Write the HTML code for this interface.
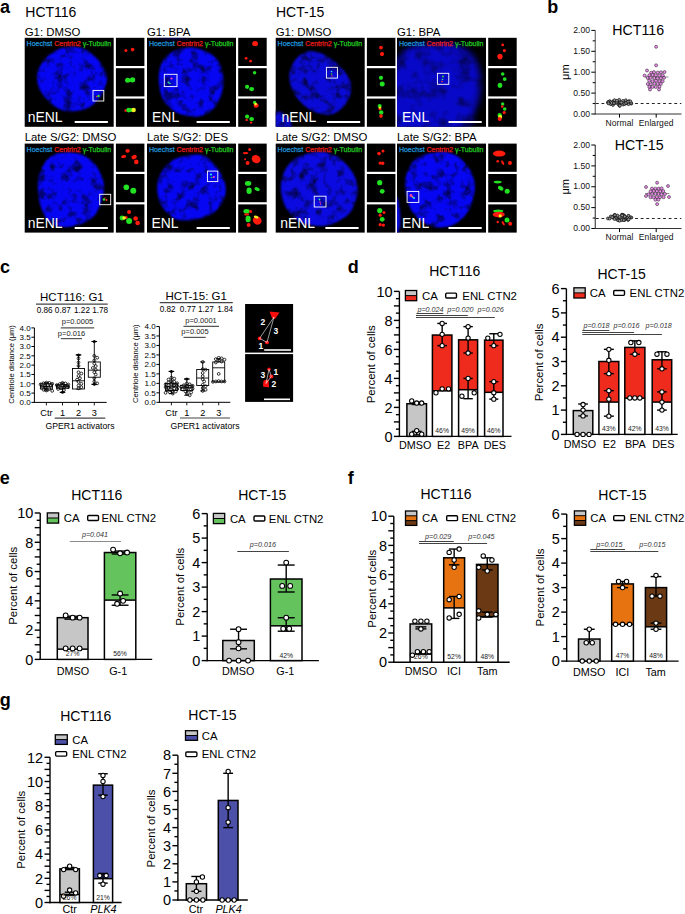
<!DOCTYPE html>
<html><head><meta charset="utf-8"><style>
html,body{margin:0;padding:0;background:#fff;}
svg{display:block;font-family:"Liberation Sans", sans-serif;}
</style></head><body>
<svg width="685" height="914" viewBox="0 0 685 914">
<defs>
<filter id="nucf0" x="-15%" y="-15%" width="130%" height="130%" color-interpolation-filters="sRGB">
<feGaussianBlur in="SourceGraphic" stdDeviation="1.3" result="b"/>
<feTurbulence type="fractalNoise" baseFrequency="0.11" numOctaves="3" seed="3" result="n"/>
<feColorMatrix in="n" type="matrix" values="1.8 0 0 0 0.04  1.8 0 0 0 0.04  1.8 0 0 0 0.04  0 0 0 0 1" result="m"/>
<feComposite in="b" in2="m" operator="arithmetic" k1="1" k2="0" k3="0" k4="0"/>
</filter>
<filter id="nucb0" x="-15%" y="-15%" width="130%" height="130%" color-interpolation-filters="sRGB">
<feGaussianBlur in="SourceGraphic" stdDeviation="3.5" result="b"/>
<feTurbulence type="fractalNoise" baseFrequency="0.07" numOctaves="3" seed="1" result="n"/>
<feColorMatrix in="n" type="matrix" values="1.3 0 0 0 0.3  1.3 0 0 0 0.3  1.3 0 0 0 0.3  0 0 0 0 1" result="m"/>
<feComposite in="b" in2="m" operator="arithmetic" k1="1" k2="0" k3="0" k4="0"/>
</filter>
<filter id="nucs0" x="-50%" y="-50%" width="200%" height="200%"><feGaussianBlur stdDeviation="2.5"/></filter>
<filter id="nucf1" x="-15%" y="-15%" width="130%" height="130%" color-interpolation-filters="sRGB">
<feGaussianBlur in="SourceGraphic" stdDeviation="1.3" result="b"/>
<feTurbulence type="fractalNoise" baseFrequency="0.11" numOctaves="3" seed="10" result="n"/>
<feColorMatrix in="n" type="matrix" values="1.8 0 0 0 0.04  1.8 0 0 0 0.04  1.8 0 0 0 0.04  0 0 0 0 1" result="m"/>
<feComposite in="b" in2="m" operator="arithmetic" k1="1" k2="0" k3="0" k4="0"/>
</filter>
<filter id="nucb1" x="-15%" y="-15%" width="130%" height="130%" color-interpolation-filters="sRGB">
<feGaussianBlur in="SourceGraphic" stdDeviation="3.5" result="b"/>
<feTurbulence type="fractalNoise" baseFrequency="0.07" numOctaves="3" seed="6" result="n"/>
<feColorMatrix in="n" type="matrix" values="1.3 0 0 0 0.3  1.3 0 0 0 0.3  1.3 0 0 0 0.3  0 0 0 0 1" result="m"/>
<feComposite in="b" in2="m" operator="arithmetic" k1="1" k2="0" k3="0" k4="0"/>
</filter>
<filter id="nucs1" x="-50%" y="-50%" width="200%" height="200%"><feGaussianBlur stdDeviation="2.5"/></filter>
<filter id="nucf2" x="-15%" y="-15%" width="130%" height="130%" color-interpolation-filters="sRGB">
<feGaussianBlur in="SourceGraphic" stdDeviation="1.3" result="b"/>
<feTurbulence type="fractalNoise" baseFrequency="0.11" numOctaves="3" seed="17" result="n"/>
<feColorMatrix in="n" type="matrix" values="1.8 0 0 0 0.04  1.8 0 0 0 0.04  1.8 0 0 0 0.04  0 0 0 0 1" result="m"/>
<feComposite in="b" in2="m" operator="arithmetic" k1="1" k2="0" k3="0" k4="0"/>
</filter>
<filter id="nucb2" x="-15%" y="-15%" width="130%" height="130%" color-interpolation-filters="sRGB">
<feGaussianBlur in="SourceGraphic" stdDeviation="3.5" result="b"/>
<feTurbulence type="fractalNoise" baseFrequency="0.07" numOctaves="3" seed="11" result="n"/>
<feColorMatrix in="n" type="matrix" values="1.3 0 0 0 0.3  1.3 0 0 0 0.3  1.3 0 0 0 0.3  0 0 0 0 1" result="m"/>
<feComposite in="b" in2="m" operator="arithmetic" k1="1" k2="0" k3="0" k4="0"/>
</filter>
<filter id="nucs2" x="-50%" y="-50%" width="200%" height="200%"><feGaussianBlur stdDeviation="2.5"/></filter>
<filter id="nucf3" x="-15%" y="-15%" width="130%" height="130%" color-interpolation-filters="sRGB">
<feGaussianBlur in="SourceGraphic" stdDeviation="1.3" result="b"/>
<feTurbulence type="fractalNoise" baseFrequency="0.11" numOctaves="3" seed="24" result="n"/>
<feColorMatrix in="n" type="matrix" values="1.8 0 0 0 0.04  1.8 0 0 0 0.04  1.8 0 0 0 0.04  0 0 0 0 1" result="m"/>
<feComposite in="b" in2="m" operator="arithmetic" k1="1" k2="0" k3="0" k4="0"/>
</filter>
<filter id="nucb3" x="-15%" y="-15%" width="130%" height="130%" color-interpolation-filters="sRGB">
<feGaussianBlur in="SourceGraphic" stdDeviation="3.5" result="b"/>
<feTurbulence type="fractalNoise" baseFrequency="0.07" numOctaves="3" seed="16" result="n"/>
<feColorMatrix in="n" type="matrix" values="1.3 0 0 0 0.3  1.3 0 0 0 0.3  1.3 0 0 0 0.3  0 0 0 0 1" result="m"/>
<feComposite in="b" in2="m" operator="arithmetic" k1="1" k2="0" k3="0" k4="0"/>
</filter>
<filter id="nucs3" x="-50%" y="-50%" width="200%" height="200%"><feGaussianBlur stdDeviation="2.5"/></filter>
<filter id="nucf4" x="-15%" y="-15%" width="130%" height="130%" color-interpolation-filters="sRGB">
<feGaussianBlur in="SourceGraphic" stdDeviation="1.3" result="b"/>
<feTurbulence type="fractalNoise" baseFrequency="0.11" numOctaves="3" seed="31" result="n"/>
<feColorMatrix in="n" type="matrix" values="1.8 0 0 0 0.04  1.8 0 0 0 0.04  1.8 0 0 0 0.04  0 0 0 0 1" result="m"/>
<feComposite in="b" in2="m" operator="arithmetic" k1="1" k2="0" k3="0" k4="0"/>
</filter>
<filter id="nucb4" x="-15%" y="-15%" width="130%" height="130%" color-interpolation-filters="sRGB">
<feGaussianBlur in="SourceGraphic" stdDeviation="3.5" result="b"/>
<feTurbulence type="fractalNoise" baseFrequency="0.07" numOctaves="3" seed="21" result="n"/>
<feColorMatrix in="n" type="matrix" values="1.3 0 0 0 0.3  1.3 0 0 0 0.3  1.3 0 0 0 0.3  0 0 0 0 1" result="m"/>
<feComposite in="b" in2="m" operator="arithmetic" k1="1" k2="0" k3="0" k4="0"/>
</filter>
<filter id="nucs4" x="-50%" y="-50%" width="200%" height="200%"><feGaussianBlur stdDeviation="2.5"/></filter>
<filter id="nucf5" x="-15%" y="-15%" width="130%" height="130%" color-interpolation-filters="sRGB">
<feGaussianBlur in="SourceGraphic" stdDeviation="1.3" result="b"/>
<feTurbulence type="fractalNoise" baseFrequency="0.11" numOctaves="3" seed="38" result="n"/>
<feColorMatrix in="n" type="matrix" values="1.8 0 0 0 0.04  1.8 0 0 0 0.04  1.8 0 0 0 0.04  0 0 0 0 1" result="m"/>
<feComposite in="b" in2="m" operator="arithmetic" k1="1" k2="0" k3="0" k4="0"/>
</filter>
<filter id="nucb5" x="-15%" y="-15%" width="130%" height="130%" color-interpolation-filters="sRGB">
<feGaussianBlur in="SourceGraphic" stdDeviation="3.5" result="b"/>
<feTurbulence type="fractalNoise" baseFrequency="0.07" numOctaves="3" seed="26" result="n"/>
<feColorMatrix in="n" type="matrix" values="1.3 0 0 0 0.3  1.3 0 0 0 0.3  1.3 0 0 0 0.3  0 0 0 0 1" result="m"/>
<feComposite in="b" in2="m" operator="arithmetic" k1="1" k2="0" k3="0" k4="0"/>
</filter>
<filter id="nucs5" x="-50%" y="-50%" width="200%" height="200%"><feGaussianBlur stdDeviation="2.5"/></filter>
<filter id="nucf6" x="-15%" y="-15%" width="130%" height="130%" color-interpolation-filters="sRGB">
<feGaussianBlur in="SourceGraphic" stdDeviation="1.3" result="b"/>
<feTurbulence type="fractalNoise" baseFrequency="0.11" numOctaves="3" seed="45" result="n"/>
<feColorMatrix in="n" type="matrix" values="1.8 0 0 0 0.04  1.8 0 0 0 0.04  1.8 0 0 0 0.04  0 0 0 0 1" result="m"/>
<feComposite in="b" in2="m" operator="arithmetic" k1="1" k2="0" k3="0" k4="0"/>
</filter>
<filter id="nucb6" x="-15%" y="-15%" width="130%" height="130%" color-interpolation-filters="sRGB">
<feGaussianBlur in="SourceGraphic" stdDeviation="3.5" result="b"/>
<feTurbulence type="fractalNoise" baseFrequency="0.07" numOctaves="3" seed="31" result="n"/>
<feColorMatrix in="n" type="matrix" values="1.3 0 0 0 0.3  1.3 0 0 0 0.3  1.3 0 0 0 0.3  0 0 0 0 1" result="m"/>
<feComposite in="b" in2="m" operator="arithmetic" k1="1" k2="0" k3="0" k4="0"/>
</filter>
<filter id="nucs6" x="-50%" y="-50%" width="200%" height="200%"><feGaussianBlur stdDeviation="2.5"/></filter>
<filter id="nucf7" x="-15%" y="-15%" width="130%" height="130%" color-interpolation-filters="sRGB">
<feGaussianBlur in="SourceGraphic" stdDeviation="1.3" result="b"/>
<feTurbulence type="fractalNoise" baseFrequency="0.11" numOctaves="3" seed="52" result="n"/>
<feColorMatrix in="n" type="matrix" values="1.8 0 0 0 0.04  1.8 0 0 0 0.04  1.8 0 0 0 0.04  0 0 0 0 1" result="m"/>
<feComposite in="b" in2="m" operator="arithmetic" k1="1" k2="0" k3="0" k4="0"/>
</filter>
<filter id="nucb7" x="-15%" y="-15%" width="130%" height="130%" color-interpolation-filters="sRGB">
<feGaussianBlur in="SourceGraphic" stdDeviation="3.5" result="b"/>
<feTurbulence type="fractalNoise" baseFrequency="0.07" numOctaves="3" seed="36" result="n"/>
<feColorMatrix in="n" type="matrix" values="1.3 0 0 0 0.3  1.3 0 0 0 0.3  1.3 0 0 0 0.3  0 0 0 0 1" result="m"/>
<feComposite in="b" in2="m" operator="arithmetic" k1="1" k2="0" k3="0" k4="0"/>
</filter>
<filter id="nucs7" x="-50%" y="-50%" width="200%" height="200%"><feGaussianBlur stdDeviation="2.5"/></filter>
<filter id="dotf" x="-50%" y="-50%" width="200%" height="200%"><feGaussianBlur stdDeviation="0.65"/></filter><filter id="dotf2" x="-100%" y="-100%" width="300%" height="300%"><feGaussianBlur stdDeviation="0.35"/></filter>
</defs>
<rect width="685" height="914" fill="#fff"/>
<text x="0.00" y="12.70" font-size="18" text-anchor="start" font-weight="bold" font-style="normal" fill="#000" >a</text>
<text x="547.20" y="12.60" font-size="18" text-anchor="start" font-weight="bold" font-style="normal" fill="#000" >b</text>
<text x="0.00" y="273.40" font-size="18" text-anchor="start" font-weight="bold" font-style="normal" fill="#000" >c</text>
<text x="347.80" y="273.00" font-size="18" text-anchor="start" font-weight="bold" font-style="normal" fill="#000" >d</text>
<text x="-0.30" y="483.70" font-size="18" text-anchor="start" font-weight="bold" font-style="normal" fill="#000" >e</text>
<text x="347.80" y="483.60" font-size="18" text-anchor="start" font-weight="bold" font-style="normal" fill="#000" >f</text>
<text x="-0.20" y="706.40" font-size="18" text-anchor="start" font-weight="bold" font-style="normal" fill="#000" >g</text>
<text x="25.30" y="16.80" font-size="14" text-anchor="start" font-weight="normal" font-style="normal" fill="#000" >HCT116</text>
<text x="276.00" y="16.80" font-size="14" text-anchor="start" font-weight="normal" font-style="normal" fill="#000" >HCT-15</text>
<text x="24.70" y="35.60" font-size="11.4" text-anchor="start" font-weight="normal" font-style="normal" fill="#000" >G1: DMSO</text>
<clipPath id="c1"><rect x="24.7" y="37.8" width="89" height="89"/></clipPath>
<rect x="24.70" y="37.80" width="89.00" height="89.00" fill="#000" stroke="none" stroke-width="0" />
<g clip-path="url(#c1)"><path d="M67.40,46.90 C72.22,46.45 78.07,46.73 83.10,48.80 C88.13,50.87 93.65,54.70 97.60,59.30 C101.55,63.90 105.93,70.92 106.80,76.40 C107.67,81.88 105.22,87.38 102.80,92.20 C100.38,97.02 96.23,102.23 92.30,105.30 C88.37,108.37 84.02,109.72 79.20,110.60 C74.38,111.48 68.22,111.92 63.40,110.60 C58.58,109.28 54.23,106.20 50.30,102.70 C46.37,99.20 42.00,94.42 39.80,89.60 C37.60,84.78 36.45,78.62 37.10,73.80 C37.75,68.98 40.85,64.42 43.70,60.70 C46.55,56.98 50.25,53.80 54.20,51.50 C58.15,49.20 62.58,47.35 67.40,46.90 Z" fill="rgb(6,6,242)" filter="url(#nucf0)"/></g>
<text x="26.599999999999998" y="45.699999999999996" font-size="7" stroke-width="0.25" fill="#2096dc" stroke="#2096dc">Hoechst <tspan fill="#e81c1c" stroke="#e81c1c">Centrin2</tspan> <tspan fill="#22c822" stroke="#22c822">γ-Tubulin</tspan></text>
<text x="27.70" y="122.20" font-size="13.9" text-anchor="start" font-weight="normal" font-style="normal" fill="#fff" >nENL</text>
<line x1="74.70" y1="122.10" x2="107.90" y2="122.10" stroke="#fff" stroke-width="2" />
<circle cx="98.5" cy="96" r="1.2" fill="#30e030" filter="url(#dotf2)"/>
<circle cx="96.5" cy="96.5" r="0.7" fill="#ff3030" filter="url(#dotf2)"/>
<rect x="93.00" y="90.40" width="10.80" height="10.60" fill="none" stroke="#fff" stroke-width="0.9" />
<rect x="115.90" y="37.80" width="28.50" height="28.20" fill="#000" stroke="none" stroke-width="0" />
<g filter="url(#dotf)">
<ellipse cx="125.90" cy="50.60" rx="1.5" ry="1.5" fill="#ff1a10" transform="rotate(0 125.90 50.60)"/>
<ellipse cx="132.60" cy="49.60" rx="1.8" ry="1.8" fill="#ff1a10" transform="rotate(0 132.60 49.60)"/>
</g>
<rect x="115.90" y="68.20" width="28.50" height="28.20" fill="#000" stroke="none" stroke-width="0" />
<g filter="url(#dotf)">
<ellipse cx="127.60" cy="80.30" rx="2.5" ry="2.5" fill="#20e020" transform="rotate(0 127.60 80.30)"/>
<ellipse cx="132.60" cy="79.80" rx="2.6" ry="2.6" fill="#20e020" transform="rotate(0 132.60 79.80)"/>
<ellipse cx="130.10" cy="80.20" rx="2.6" ry="1.8" fill="#20e020" transform="rotate(0 130.10 80.20)"/>
</g>
<rect x="115.90" y="98.60" width="28.50" height="28.20" fill="#000" stroke="none" stroke-width="0" />
<g filter="url(#dotf)">
<ellipse cx="125.60" cy="110.60" rx="1.3" ry="1.3" fill="#ff1a10" transform="rotate(0 125.60 110.60)"/>
<ellipse cx="128.60" cy="110.10" rx="2.4" ry="2.4" fill="#20e020" transform="rotate(0 128.60 110.10)"/>
<ellipse cx="130.90" cy="110.10" rx="2" ry="2" fill="#20e020" transform="rotate(0 130.90 110.10)"/>
<ellipse cx="133.60" cy="110.00" rx="2.3" ry="2.3" fill="#f0f020" transform="rotate(0 133.60 110.00)"/>
</g>
<text x="147.00" y="35.60" font-size="11.4" text-anchor="start" font-weight="normal" font-style="normal" fill="#000" >G1: BPA</text>
<clipPath id="c2"><rect x="147" y="37.8" width="89" height="89"/></clipPath>
<rect x="147.00" y="37.80" width="89.00" height="89.00" fill="#000" stroke="none" stroke-width="0" />
<g clip-path="url(#c2)"><ellipse cx="172" cy="32" rx="20" ry="6" transform="rotate(0 172 32)" fill="rgb(10,10,150)" filter="url(#nucs1)"/></g>
<g clip-path="url(#c2)"><path d="M190.40,47.50 C195.87,47.50 201.50,49.30 206.10,51.50 C210.70,53.70 215.15,56.55 218.00,60.70 C220.85,64.85 222.55,71.15 223.20,76.40 C223.85,81.65 223.22,87.17 221.90,92.20 C220.58,97.23 218.58,102.67 215.30,106.60 C212.02,110.53 207.02,114.27 202.20,115.80 C197.38,117.33 191.22,116.67 186.40,115.80 C181.58,114.93 177.23,113.43 173.30,110.60 C169.37,107.77 165.22,103.83 162.80,98.80 C160.38,93.77 159.02,86.32 158.80,80.40 C158.58,74.48 159.08,68.12 161.50,63.30 C163.92,58.48 168.48,54.13 173.30,51.50 C178.12,48.87 184.93,47.50 190.40,47.50 Z" fill="rgb(6,6,242)" filter="url(#nucf2)"/></g>
<text x="148.9" y="45.699999999999996" font-size="7" stroke-width="0.25" fill="#2096dc" stroke="#2096dc">Hoechst <tspan fill="#e81c1c" stroke="#e81c1c">Centrin2</tspan> <tspan fill="#22c822" stroke="#22c822">γ-Tubulin</tspan></text>
<text x="152.10" y="122.20" font-size="13.9" text-anchor="start" font-weight="normal" font-style="normal" fill="#fff" >ENL</text>
<line x1="196.60" y1="122.10" x2="229.80" y2="122.10" stroke="#fff" stroke-width="2" />
<circle cx="171.5" cy="78.5" r="1.1" fill="#ff40c0" filter="url(#dotf2)"/>
<circle cx="168.5" cy="82.5" r="1.0" fill="#30e0a0" filter="url(#dotf2)"/>
<circle cx="170" cy="83.5" r="0.8" fill="#30e0a0" filter="url(#dotf2)"/>
<rect x="164.30" y="74.30" width="12.70" height="12.30" fill="none" stroke="#fff" stroke-width="0.9" />
<rect x="238.20" y="37.80" width="28.50" height="28.20" fill="#000" stroke="none" stroke-width="0" />
<g filter="url(#dotf)">
<ellipse cx="255.10" cy="43.50" rx="2.9" ry="2.6" fill="#ff1a10" transform="rotate(0 255.10 43.50)"/>
<ellipse cx="246.10" cy="58.30" rx="1.4" ry="1.4" fill="#ff1a10" transform="rotate(0 246.10 58.30)"/>
<ellipse cx="250.60" cy="61.20" rx="1.4" ry="1.4" fill="#ff1a10" transform="rotate(0 250.60 61.20)"/>
</g>
<rect x="238.20" y="68.20" width="28.50" height="28.20" fill="#000" stroke="none" stroke-width="0" />
<g filter="url(#dotf)">
<ellipse cx="254.60" cy="72.70" rx="1.7" ry="1.7" fill="#20e020" transform="rotate(0 254.60 72.70)"/>
<ellipse cx="247.10" cy="86.80" rx="2.1" ry="2.1" fill="#20e020" transform="rotate(0 247.10 86.80)"/>
<ellipse cx="251.60" cy="89.10" rx="2.5" ry="2.1" fill="#20e020" transform="rotate(0 251.60 89.10)"/>
</g>
<rect x="238.20" y="98.60" width="28.50" height="28.20" fill="#000" stroke="none" stroke-width="0" />
<g filter="url(#dotf)">
<ellipse cx="254.60" cy="102.50" rx="1.7" ry="1.7" fill="#20e020" transform="rotate(0 254.60 102.50)"/>
<ellipse cx="256.10" cy="105.50" rx="2.6" ry="2.2" fill="#ff1a10" transform="rotate(0 256.10 105.50)"/>
<ellipse cx="255.60" cy="104.10" rx="1.4" ry="1.4" fill="#f0f020" transform="rotate(0 255.60 104.10)"/>
<ellipse cx="247.10" cy="116.60" rx="2.1" ry="2.1" fill="#20e020" transform="rotate(0 247.10 116.60)"/>
<ellipse cx="251.60" cy="119.10" rx="2.4" ry="2.1" fill="#20e020" transform="rotate(0 251.60 119.10)"/>
<ellipse cx="246.60" cy="119.90" rx="1.2" ry="1.2" fill="#ff1a10" transform="rotate(0 246.60 119.90)"/>
<ellipse cx="251.10" cy="122.60" rx="1.2" ry="1.2" fill="#ff1a10" transform="rotate(0 251.10 122.60)"/>
</g>
<text x="275.70" y="35.60" font-size="11.4" text-anchor="start" font-weight="normal" font-style="normal" fill="#000" >G1: DMSO</text>
<clipPath id="c3"><rect x="275.7" y="37.8" width="89" height="89"/></clipPath>
<rect x="275.70" y="37.80" width="89.00" height="89.00" fill="#000" stroke="none" stroke-width="0" />
<g clip-path="url(#c3)"><path d="M314.40,51.50 C318.35,52.15 323.22,54.08 327.60,56.70 C331.98,59.32 336.98,63.25 340.70,67.20 C344.42,71.15 348.37,75.58 349.90,80.40 C351.43,85.22 351.22,91.50 349.90,96.10 C348.58,100.70 345.28,104.93 342.00,108.00 C338.72,111.07 334.80,113.85 330.20,114.50 C325.60,115.15 319.22,113.87 314.40,111.90 C309.58,109.93 305.02,106.42 301.30,102.70 C297.58,98.98 294.07,94.42 292.10,89.60 C290.13,84.78 289.07,78.62 289.50,73.80 C289.93,68.98 292.30,64.20 294.70,60.70 C297.10,57.20 300.62,54.33 303.90,52.80 C307.18,51.27 310.45,50.85 314.40,51.50 Z" fill="rgb(10,10,215)" filter="url(#nucf3)"/></g>
<g clip-path="url(#c3)"><ellipse cx="275" cy="128" rx="17" ry="17" transform="rotate(0 275 128)" fill="rgb(10,10,215)" filter="url(#nucf4)"/></g>
<text x="277.59999999999997" y="45.699999999999996" font-size="7" stroke-width="0.25" fill="#2096dc" stroke="#2096dc">Hoechst <tspan fill="#e81c1c" stroke="#e81c1c">Centrin2</tspan> <tspan fill="#22c822" stroke="#22c822">γ-Tubulin</tspan></text>
<text x="281.50" y="122.20" font-size="13.9" text-anchor="start" font-weight="normal" font-style="normal" fill="#fff" >nENL</text>
<line x1="327.00" y1="122.10" x2="360.20" y2="122.10" stroke="#fff" stroke-width="2" />
<circle cx="331.5" cy="71.5" r="0.8" fill="#30e0e0" filter="url(#dotf2)"/>
<circle cx="331.5" cy="74" r="0.8" fill="#30e030" filter="url(#dotf2)"/>
<circle cx="332" cy="76" r="0.7" fill="#ff4040" filter="url(#dotf2)"/>
<rect x="326.40" y="67.30" width="11.00" height="10.80" fill="none" stroke="#fff" stroke-width="0.9" />
<rect x="366.90" y="37.80" width="28.50" height="28.20" fill="#000" stroke="none" stroke-width="0" />
<g filter="url(#dotf)">
<ellipse cx="381.00" cy="47.60" rx="1.9" ry="1.9" fill="#ff1a10" transform="rotate(0 381.00 47.60)"/>
<ellipse cx="382.00" cy="54.10" rx="2.1" ry="2.1" fill="#ff1a10" transform="rotate(0 382.00 54.10)"/>
</g>
<rect x="366.90" y="68.20" width="28.50" height="28.20" fill="#000" stroke="none" stroke-width="0" />
<g filter="url(#dotf)">
<ellipse cx="381.00" cy="77.80" rx="2.1" ry="2.1" fill="#20e020" transform="rotate(0 381.00 77.80)"/>
<ellipse cx="382.20" cy="84.10" rx="2.5" ry="2.5" fill="#20e020" transform="rotate(0 382.20 84.10)"/>
</g>
<rect x="366.90" y="98.60" width="28.50" height="28.20" fill="#000" stroke="none" stroke-width="0" />
<g filter="url(#dotf)">
<ellipse cx="379.70" cy="106.00" rx="2" ry="2" fill="#20e020" transform="rotate(0 379.70 106.00)"/>
<ellipse cx="380.00" cy="108.80" rx="1.6" ry="1.6" fill="#ff1a10" transform="rotate(0 380.00 108.80)"/>
<ellipse cx="381.20" cy="112.50" rx="2.2" ry="2.2" fill="#20e020" transform="rotate(0 381.20 112.50)"/>
<ellipse cx="381.00" cy="116.10" rx="1.8" ry="1.8" fill="#ff1a10" transform="rotate(0 381.00 116.10)"/>
<ellipse cx="379.90" cy="107.60" rx="1.2" ry="1.2" fill="#f0f020" transform="rotate(0 379.90 107.60)"/>
</g>
<text x="397.00" y="35.60" font-size="11.4" text-anchor="start" font-weight="normal" font-style="normal" fill="#000" >G1: BPA</text>
<clipPath id="c4"><rect x="397" y="37.8" width="89" height="89"/></clipPath>
<rect x="397.00" y="37.80" width="89.00" height="89.00" fill="#000" stroke="none" stroke-width="0" />
<g clip-path="url(#c4)"><path d="M422.30,44.90 C428.43,44.47 440.72,42.28 448.60,43.60 C456.48,44.92 464.57,48.43 469.60,52.80 C474.63,57.17 477.05,63.67 478.80,69.80 C480.55,75.93 480.77,82.80 480.10,89.60 C479.43,96.40 477.87,103.87 474.80,110.60 C471.73,117.33 474.83,126.43 461.70,130.00 C448.57,133.57 407.62,140.93 396.00,132.00 C384.38,123.07 390.90,89.60 392.00,76.40 C393.10,63.20 399.30,57.83 402.60,52.80 C405.90,47.77 408.52,47.52 411.80,46.20 C415.08,44.88 416.17,45.33 422.30,44.90 Z" fill="rgb(8,8,200)" filter="url(#nucb5)"/></g>
<text x="398.9" y="45.699999999999996" font-size="7" stroke-width="0.25" fill="#2096dc" stroke="#2096dc">Hoechst <tspan fill="#e81c1c" stroke="#e81c1c">Centrin2</tspan> <tspan fill="#22c822" stroke="#22c822">γ-Tubulin</tspan></text>
<text x="402.10" y="122.20" font-size="13.9" text-anchor="start" font-weight="normal" font-style="normal" fill="#fff" >ENL</text>
<line x1="448.50" y1="122.10" x2="481.70" y2="122.10" stroke="#fff" stroke-width="2" />
<circle cx="443" cy="76.5" r="0.9" fill="#30e030" filter="url(#dotf2)"/>
<circle cx="442.5" cy="79.5" r="0.8" fill="#30e0a0" filter="url(#dotf2)"/>
<circle cx="442" cy="81.5" r="0.8" fill="#ff4040" filter="url(#dotf2)"/>
<rect x="437.40" y="73.30" width="11.40" height="11.00" fill="none" stroke="#fff" stroke-width="0.9" />
<rect x="488.20" y="37.80" width="28.50" height="28.20" fill="#000" stroke="none" stroke-width="0" />
<g filter="url(#dotf)">
<ellipse cx="502.70" cy="44.90" rx="1.4" ry="1.4" fill="#ff1a10" transform="rotate(0 502.70 44.90)"/>
<ellipse cx="504.40" cy="50.60" rx="1.6" ry="1.6" fill="#ff1a10" transform="rotate(0 504.40 50.60)"/>
<ellipse cx="500.00" cy="56.60" rx="2.6" ry="2.8" fill="#ff1a10" transform="rotate(0 500.00 56.60)"/>
</g>
<rect x="488.20" y="68.20" width="28.50" height="28.20" fill="#000" stroke="none" stroke-width="0" />
<g filter="url(#dotf)">
<ellipse cx="502.70" cy="74.00" rx="1.8" ry="1.8" fill="#20e020" transform="rotate(0 502.70 74.00)"/>
<ellipse cx="504.70" cy="79.10" rx="1.9" ry="1.9" fill="#20e020" transform="rotate(0 504.70 79.10)"/>
<ellipse cx="500.00" cy="85.30" rx="2.3" ry="2.6" fill="#20e020" transform="rotate(0 500.00 85.30)"/>
</g>
<rect x="488.20" y="98.60" width="28.50" height="28.20" fill="#000" stroke="none" stroke-width="0" />
<g filter="url(#dotf)">
<ellipse cx="502.70" cy="104.00" rx="1.7" ry="1.7" fill="#20e020" transform="rotate(0 502.70 104.00)"/>
<ellipse cx="502.20" cy="106.50" rx="1.3" ry="1.3" fill="#ff1a10" transform="rotate(0 502.20 106.50)"/>
<ellipse cx="504.70" cy="109.00" rx="1.8" ry="1.8" fill="#20e020" transform="rotate(0 504.70 109.00)"/>
<ellipse cx="504.20" cy="112.60" rx="1.6" ry="1.6" fill="#ff1a10" transform="rotate(0 504.20 112.60)"/>
<ellipse cx="499.70" cy="115.10" rx="2.2" ry="2.2" fill="#20e020" transform="rotate(0 499.70 115.10)"/>
<ellipse cx="500.20" cy="116.90" rx="2" ry="2" fill="#f0f020" transform="rotate(0 500.20 116.90)"/>
<ellipse cx="499.70" cy="118.90" rx="2" ry="2" fill="#ff1a10" transform="rotate(0 499.70 118.90)"/>
</g>
<text x="24.70" y="141.40" font-size="11.4" text-anchor="start" font-weight="normal" font-style="normal" fill="#000" >Late S/G2: DMSO</text>
<clipPath id="c5"><rect x="24.7" y="143.6" width="89" height="89"/></clipPath>
<rect x="24.70" y="143.60" width="89.00" height="89.00" fill="#000" stroke="none" stroke-width="0" />
<g clip-path="url(#c5)"><path d="M63.40,152.20 C68.00,151.77 74.17,151.75 79.20,153.50 C84.23,155.25 89.88,158.98 93.60,162.70 C97.32,166.42 99.75,171.42 101.50,175.80 C103.25,180.18 104.32,184.17 104.10,189.00 C103.88,193.83 101.95,200.20 100.20,204.80 C98.45,209.40 97.10,213.32 93.60,216.60 C90.10,219.88 84.23,222.75 79.20,224.50 C74.17,226.25 68.22,227.33 63.40,227.10 C58.58,226.87 53.80,225.73 50.30,223.10 C46.80,220.47 44.37,215.88 42.40,211.30 C40.43,206.72 39.15,201.07 38.50,195.60 C37.85,190.13 37.63,183.77 38.50,178.50 C39.37,173.23 41.52,167.73 43.70,164.00 C45.88,160.27 48.32,158.07 51.60,156.10 C54.88,154.13 58.80,152.63 63.40,152.20 Z" fill="rgb(6,6,242)" filter="url(#nucf6)"/></g>
<text x="26.599999999999998" y="151.5" font-size="7" stroke-width="0.25" fill="#2096dc" stroke="#2096dc">Hoechst <tspan fill="#e81c1c" stroke="#e81c1c">Centrin2</tspan> <tspan fill="#22c822" stroke="#22c822">γ-Tubulin</tspan></text>
<text x="27.70" y="228.00" font-size="13.9" text-anchor="start" font-weight="normal" font-style="normal" fill="#fff" >nENL</text>
<line x1="74.70" y1="227.90" x2="107.90" y2="227.90" stroke="#fff" stroke-width="2" />
<circle cx="104" cy="199.5" r="1.2" fill="#30e030" filter="url(#dotf2)"/>
<circle cx="106.5" cy="200" r="1.0" fill="#ff3030" filter="url(#dotf2)"/>
<circle cx="105" cy="198" r="0.7" fill="#ff3030" filter="url(#dotf2)"/>
<rect x="99.70" y="194.30" width="11.00" height="10.40" fill="none" stroke="#fff" stroke-width="0.9" />
<rect x="115.90" y="143.60" width="28.50" height="28.20" fill="#000" stroke="none" stroke-width="0" />
<g filter="url(#dotf)">
<ellipse cx="127.60" cy="150.90" rx="2.2" ry="1.8" fill="#ff1a10" transform="rotate(0 127.60 150.90)"/>
<ellipse cx="123.60" cy="156.60" rx="2.6" ry="1.5" fill="#ff1a10" transform="rotate(-10 123.60 156.60)"/>
<ellipse cx="134.10" cy="157.10" rx="2.8" ry="2" fill="#ff1a10" transform="rotate(-25 134.10 157.10)"/>
<ellipse cx="136.30" cy="161.90" rx="2.3" ry="2.3" fill="#ff1a10" transform="rotate(0 136.30 161.90)"/>
</g>
<rect x="115.90" y="174.00" width="28.50" height="28.20" fill="#000" stroke="none" stroke-width="0" />
<g filter="url(#dotf)">
<ellipse cx="126.30" cy="187.30" rx="2.8" ry="2.8" fill="#20e020" transform="rotate(0 126.30 187.30)"/>
<ellipse cx="133.30" cy="190.80" rx="3" ry="3" fill="#20e020" transform="rotate(0 133.30 190.80)"/>
</g>
<rect x="115.90" y="204.40" width="28.50" height="28.20" fill="#000" stroke="none" stroke-width="0" />
<g filter="url(#dotf)">
<ellipse cx="129.10" cy="211.90" rx="2" ry="2" fill="#ff1a10" transform="rotate(0 129.10 211.90)"/>
<ellipse cx="122.00" cy="218.00" rx="2.4" ry="2.4" fill="#20e020" transform="rotate(0 122.00 218.00)"/>
<ellipse cx="126.10" cy="217.50" rx="1.5" ry="1.5" fill="#ff1a10" transform="rotate(0 126.10 217.50)"/>
<ellipse cx="124.10" cy="218.00" rx="1.8" ry="1.8" fill="#f0f020" transform="rotate(0 124.10 218.00)"/>
<ellipse cx="129.10" cy="221.00" rx="3" ry="3" fill="#20e020" transform="rotate(0 129.10 221.00)"/>
<ellipse cx="135.60" cy="218.50" rx="2.3" ry="2.3" fill="#ff1a10" transform="rotate(0 135.60 218.50)"/>
<ellipse cx="137.60" cy="223.00" rx="2.3" ry="2.3" fill="#ff1a10" transform="rotate(0 137.60 223.00)"/>
</g>
<text x="147.00" y="141.40" font-size="11.4" text-anchor="start" font-weight="normal" font-style="normal" fill="#000" >Late S/G2: DES</text>
<clipPath id="c6"><rect x="147" y="143.6" width="89" height="89"/></clipPath>
<rect x="147.00" y="143.60" width="89.00" height="89.00" fill="#000" stroke="none" stroke-width="0" />
<g clip-path="url(#c6)"><path d="M186.40,156.10 C190.35,155.43 195.65,154.13 199.60,154.80 C203.55,155.47 206.60,157.03 210.10,160.10 C213.60,163.17 217.98,168.60 220.60,173.20 C223.22,177.80 225.37,183.10 225.80,187.70 C226.23,192.30 224.95,196.87 223.20,200.80 C221.45,204.73 218.80,208.45 215.30,211.30 C211.80,214.15 207.02,216.37 202.20,217.90 C197.38,219.43 191.22,220.50 186.40,220.50 C181.58,220.50 177.23,220.08 173.30,217.90 C169.37,215.72 165.43,211.57 162.80,207.40 C160.17,203.23 158.17,197.72 157.50,192.90 C156.83,188.08 157.27,183.10 158.80,178.50 C160.33,173.90 163.85,168.58 166.70,165.30 C169.55,162.02 172.62,160.33 175.90,158.80 C179.18,157.27 182.45,156.77 186.40,156.10 Z" fill="rgb(6,6,242)" filter="url(#nucf7)"/></g>
<text x="148.9" y="151.5" font-size="7" stroke-width="0.25" fill="#2096dc" stroke="#2096dc">Hoechst <tspan fill="#e81c1c" stroke="#e81c1c">Centrin2</tspan> <tspan fill="#22c822" stroke="#22c822">γ-Tubulin</tspan></text>
<text x="151.50" y="228.00" font-size="13.9" text-anchor="start" font-weight="normal" font-style="normal" fill="#fff" >ENL</text>
<line x1="196.60" y1="227.90" x2="229.80" y2="227.90" stroke="#fff" stroke-width="2" />
<circle cx="211" cy="174.5" r="1.1" fill="#30e0e0" filter="url(#dotf2)"/>
<circle cx="213.8" cy="177" r="1.1" fill="#ff40c0" filter="url(#dotf2)"/>
<circle cx="211.5" cy="177.5" r="0.8" fill="#30e030" filter="url(#dotf2)"/>
<rect x="207.40" y="171.10" width="10.40" height="10.50" fill="none" stroke="#fff" stroke-width="0.9" />
<rect x="238.20" y="143.60" width="28.50" height="28.20" fill="#000" stroke="none" stroke-width="0" />
<g filter="url(#dotf)">
<ellipse cx="256.10" cy="159.10" rx="4.5" ry="4" fill="#ff1a10" transform="rotate(30 256.10 159.10)"/>
<ellipse cx="249.60" cy="149.60" rx="1.5" ry="1.5" fill="#ff1a10" transform="rotate(0 249.60 149.60)"/>
<ellipse cx="245.60" cy="153.10" rx="2.8" ry="1.2" fill="#ff1a10" transform="rotate(0 245.60 153.10)"/>
<ellipse cx="245.10" cy="159.30" rx="1" ry="1" fill="#ff1a10" transform="rotate(0 245.10 159.30)"/>
<ellipse cx="247.60" cy="163.10" rx="2" ry="2" fill="#ff1a10" transform="rotate(0 247.60 163.10)"/>
</g>
<rect x="238.20" y="174.00" width="28.50" height="28.20" fill="#000" stroke="none" stroke-width="0" />
<g filter="url(#dotf)">
<ellipse cx="248.10" cy="183.40" rx="3.2" ry="2.3" fill="#20e020" transform="rotate(0 248.10 183.40)"/>
<ellipse cx="249.10" cy="190.80" rx="2.6" ry="3.2" fill="#20e020" transform="rotate(0 249.10 190.80)"/>
<ellipse cx="257.20" cy="189.10" rx="2.8" ry="1.8" fill="#20e020" transform="rotate(20 257.20 189.10)"/>
</g>
<rect x="238.20" y="204.40" width="28.50" height="28.20" fill="#000" stroke="none" stroke-width="0" />
<g filter="url(#dotf)">
<ellipse cx="246.60" cy="211.20" rx="3.2" ry="2.3" fill="#20e020" transform="rotate(0 246.60 211.20)"/>
<ellipse cx="250.60" cy="211.40" rx="1.5" ry="1.5" fill="#ff1a10" transform="rotate(0 250.60 211.40)"/>
<ellipse cx="246.60" cy="214.40" rx="2.5" ry="1.2" fill="#ff1a10" transform="rotate(0 246.60 214.40)"/>
<ellipse cx="248.10" cy="219.00" rx="2.6" ry="3.2" fill="#20e020" transform="rotate(0 248.10 219.00)"/>
<ellipse cx="257.20" cy="220.50" rx="4.5" ry="4" fill="#ff1a10" transform="rotate(30 257.20 220.50)"/>
<ellipse cx="256.20" cy="217.00" rx="2.5" ry="1.3" fill="#f0f020" transform="rotate(20 256.20 217.00)"/>
<ellipse cx="248.60" cy="225.00" rx="2" ry="2" fill="#ff1a10" transform="rotate(0 248.60 225.00)"/>
</g>
<text x="275.70" y="141.40" font-size="11.4" text-anchor="start" font-weight="normal" font-style="normal" fill="#000" >Late S/G2: DMSO</text>
<clipPath id="c7"><rect x="275.7" y="143.6" width="89" height="89"/></clipPath>
<rect x="275.70" y="143.60" width="89.00" height="89.00" fill="#000" stroke="none" stroke-width="0" />
<g clip-path="url(#c7)"><path d="M314.40,152.20 C319.43,151.77 325.38,151.97 330.20,153.50 C335.02,155.03 339.37,157.90 343.30,161.40 C347.23,164.90 351.38,169.68 353.80,174.50 C356.22,179.32 357.80,185.03 357.80,190.30 C357.80,195.57 355.77,201.72 353.80,206.10 C351.83,210.48 349.93,213.53 346.00,216.60 C342.07,219.67 335.47,222.97 330.20,224.50 C324.93,226.03 319.43,226.25 314.40,225.80 C309.37,225.35 304.38,224.22 300.00,221.80 C295.62,219.38 291.17,215.67 288.10,211.30 C285.03,206.93 282.68,200.85 281.60,195.60 C280.52,190.35 280.52,184.85 281.60,179.80 C282.68,174.75 285.03,169.25 288.10,165.30 C291.17,161.35 295.62,158.28 300.00,156.10 C304.38,153.92 309.37,152.63 314.40,152.20 Z" fill="rgb(10,10,225)" filter="url(#nucf0)"/></g>
<text x="277.59999999999997" y="151.5" font-size="7" stroke-width="0.25" fill="#2096dc" stroke="#2096dc">Hoechst <tspan fill="#e81c1c" stroke="#e81c1c">Centrin2</tspan> <tspan fill="#22c822" stroke="#22c822">γ-Tubulin</tspan></text>
<text x="280.20" y="228.00" font-size="13.9" text-anchor="start" font-weight="normal" font-style="normal" fill="#fff" >nENL</text>
<line x1="325.40" y1="227.90" x2="358.60" y2="227.90" stroke="#fff" stroke-width="2" />
<circle cx="319.5" cy="199.5" r="0.9" fill="#30e0c0" filter="url(#dotf2)"/>
<circle cx="320" cy="202" r="0.8" fill="#ff3080" filter="url(#dotf2)"/>
<circle cx="320.5" cy="204" r="0.7" fill="#ff3080" filter="url(#dotf2)"/>
<rect x="314.20" y="196.20" width="11.80" height="10.80" fill="none" stroke="#fff" stroke-width="0.9" />
<rect x="366.90" y="143.60" width="28.50" height="28.20" fill="#000" stroke="none" stroke-width="0" />
<g filter="url(#dotf)">
<ellipse cx="379.00" cy="153.60" rx="1.8" ry="1.8" fill="#ff1a10" transform="rotate(0 379.00 153.60)"/>
<ellipse cx="383.00" cy="150.90" rx="1.5" ry="1.5" fill="#ff1a10" transform="rotate(0 383.00 150.90)"/>
<ellipse cx="380.20" cy="163.10" rx="1.7" ry="1.7" fill="#ff1a10" transform="rotate(0 380.20 163.10)"/>
<ellipse cx="382.70" cy="163.30" rx="1.7" ry="1.7" fill="#ff1a10" transform="rotate(0 382.70 163.30)"/>
</g>
<rect x="366.90" y="174.00" width="28.50" height="28.20" fill="#000" stroke="none" stroke-width="0" />
<g filter="url(#dotf)">
<ellipse cx="379.70" cy="182.70" rx="2.6" ry="2.6" fill="#20e020" transform="rotate(0 379.70 182.70)"/>
<ellipse cx="382.20" cy="191.30" rx="2.4" ry="2.4" fill="#20e020" transform="rotate(0 382.20 191.30)"/>
</g>
<rect x="366.90" y="204.40" width="28.50" height="28.20" fill="#000" stroke="none" stroke-width="0" />
<g filter="url(#dotf)">
<ellipse cx="379.70" cy="210.60" rx="2.6" ry="2.6" fill="#20e020" transform="rotate(0 379.70 210.60)"/>
<ellipse cx="384.00" cy="212.60" rx="1.5" ry="1.5" fill="#ff1a10" transform="rotate(0 384.00 212.60)"/>
<ellipse cx="380.20" cy="215.20" rx="1.6" ry="1.6" fill="#ff1a10" transform="rotate(0 380.20 215.20)"/>
<ellipse cx="382.20" cy="219.30" rx="2.4" ry="2.4" fill="#20e020" transform="rotate(0 382.20 219.30)"/>
<ellipse cx="380.20" cy="224.70" rx="1.6" ry="1.6" fill="#ff1a10" transform="rotate(0 380.20 224.70)"/>
<ellipse cx="383.40" cy="225.10" rx="1.6" ry="1.6" fill="#ff1a10" transform="rotate(0 383.40 225.10)"/>
</g>
<text x="397.00" y="141.40" font-size="11.4" text-anchor="start" font-weight="normal" font-style="normal" fill="#000" >Late S/G2: BPA</text>
<clipPath id="c8"><rect x="397" y="143.6" width="89" height="89"/></clipPath>
<rect x="397.00" y="143.60" width="89.00" height="89.00" fill="#000" stroke="none" stroke-width="0" />
<g clip-path="url(#c8)"><path d="M428.80,153.50 C433.40,152.62 440.85,151.53 445.90,152.20 C450.95,152.87 455.15,154.65 459.10,157.50 C463.05,160.35 466.98,164.72 469.60,169.30 C472.22,173.88 474.37,179.53 474.80,185.00 C475.23,190.47 473.95,196.83 472.20,202.10 C470.45,207.37 467.80,212.65 464.30,216.60 C460.80,220.55 456.02,224.05 451.20,225.80 C446.38,227.55 440.22,227.77 435.40,227.10 C430.58,226.43 426.23,224.43 422.30,221.80 C418.37,219.17 414.43,215.67 411.80,211.30 C409.17,206.93 407.60,200.85 406.50,195.60 C405.40,190.35 404.53,184.85 405.20,179.80 C405.87,174.75 408.32,169.02 410.50,165.30 C412.68,161.58 415.25,159.47 418.30,157.50 C421.35,155.53 424.20,154.38 428.80,153.50 Z" fill="rgb(6,6,242)" filter="url(#nucf1)"/></g>
<g clip-path="url(#c8)"><ellipse cx="395" cy="218" rx="5.5" ry="22" transform="rotate(0 395 218)" fill="rgb(10,10,220)" filter="url(#nucf2)"/></g>
<text x="398.9" y="151.5" font-size="7" stroke-width="0.25" fill="#2096dc" stroke="#2096dc">Hoechst <tspan fill="#e81c1c" stroke="#e81c1c">Centrin2</tspan> <tspan fill="#22c822" stroke="#22c822">γ-Tubulin</tspan></text>
<text x="402.10" y="228.00" font-size="13.9" text-anchor="start" font-weight="normal" font-style="normal" fill="#fff" >ENL</text>
<line x1="448.50" y1="227.90" x2="481.70" y2="227.90" stroke="#fff" stroke-width="2" />
<circle cx="411" cy="195.5" r="1.4" fill="#ff40a0" filter="url(#dotf2)"/>
<circle cx="414" cy="198" r="1.0" fill="#30e0e0" filter="url(#dotf2)"/>
<circle cx="412.5" cy="197" r="0.8" fill="#ffe040" filter="url(#dotf2)"/>
<rect x="407.10" y="191.40" width="11.70" height="11.00" fill="none" stroke="#fff" stroke-width="0.9" />
<rect x="488.20" y="143.60" width="28.50" height="28.20" fill="#000" stroke="none" stroke-width="0" />
<g filter="url(#dotf)">
<ellipse cx="499.20" cy="153.60" rx="6.3" ry="3" fill="#ff1a10" transform="rotate(0 499.20 153.60)"/>
<ellipse cx="497.70" cy="161.30" rx="1.3" ry="1.3" fill="#ff1a10" transform="rotate(0 497.70 161.30)"/>
<ellipse cx="502.70" cy="162.60" rx="1.1" ry="2.5" fill="#ff1a10" transform="rotate(-30 502.70 162.60)"/>
<ellipse cx="510.00" cy="163.10" rx="2" ry="2" fill="#ff1a10" transform="rotate(0 510.00 163.10)"/>
</g>
<rect x="488.20" y="174.00" width="28.50" height="28.20" fill="#000" stroke="none" stroke-width="0" />
<g filter="url(#dotf)">
<ellipse cx="497.70" cy="182.10" rx="4" ry="1.4" fill="#20e020" transform="rotate(0 497.70 182.10)"/>
<ellipse cx="500.70" cy="188.20" rx="3" ry="2" fill="#20e020" transform="rotate(30 500.70 188.20)"/>
<ellipse cx="507.20" cy="191.20" rx="2.5" ry="2.5" fill="#20e020" transform="rotate(0 507.20 191.20)"/>
</g>
<rect x="488.20" y="204.40" width="28.50" height="28.20" fill="#000" stroke="none" stroke-width="0" />
<g filter="url(#dotf)">
<ellipse cx="498.20" cy="210.90" rx="5" ry="1.5" fill="#20e020" transform="rotate(0 498.20 210.90)"/>
<ellipse cx="498.70" cy="214.60" rx="6" ry="2.8" fill="#ff1a10" transform="rotate(0 498.70 214.60)"/>
<ellipse cx="500.20" cy="215.90" rx="1.6" ry="1.6" fill="#f0f020" transform="rotate(0 500.20 215.90)"/>
<ellipse cx="507.00" cy="220.00" rx="2.5" ry="2.5" fill="#20e020" transform="rotate(0 507.00 220.00)"/>
<ellipse cx="497.70" cy="222.00" rx="1.2" ry="1.2" fill="#ff1a10" transform="rotate(0 497.70 222.00)"/>
<ellipse cx="503.20" cy="223.30" rx="1.1" ry="2.5" fill="#ff1a10" transform="rotate(-30 503.20 223.30)"/>
<ellipse cx="510.20" cy="223.70" rx="2" ry="2" fill="#ff1a10" transform="rotate(0 510.20 223.70)"/>
</g>
<line x1="595.30" y1="30.40" x2="595.30" y2="114.55" stroke="#7a7a7a" stroke-width="1.3" />
<line x1="591.30" y1="114.00" x2="595.30" y2="114.00" stroke="#000" stroke-width="1.0" />
<text x="590.00" y="116.70" font-size="8.6" text-anchor="end" fill="#111">0.00</text>
<line x1="592.70" y1="103.55" x2="595.30" y2="103.55" stroke="#000" stroke-width="1.0" />
<line x1="591.30" y1="93.10" x2="595.30" y2="93.10" stroke="#000" stroke-width="1.0" />
<text x="590.00" y="95.80" font-size="8.6" text-anchor="end" fill="#111">0.50</text>
<line x1="592.70" y1="82.65" x2="595.30" y2="82.65" stroke="#000" stroke-width="1.0" />
<line x1="591.30" y1="72.20" x2="595.30" y2="72.20" stroke="#000" stroke-width="1.0" />
<text x="590.00" y="74.90" font-size="8.6" text-anchor="end" fill="#111">1.00</text>
<line x1="592.70" y1="61.75" x2="595.30" y2="61.75" stroke="#000" stroke-width="1.0" />
<line x1="591.30" y1="51.30" x2="595.30" y2="51.30" stroke="#000" stroke-width="1.0" />
<text x="590.00" y="54.00" font-size="8.6" text-anchor="end" fill="#111">1.50</text>
<line x1="592.70" y1="40.85" x2="595.30" y2="40.85" stroke="#000" stroke-width="1.0" />
<line x1="591.30" y1="30.40" x2="595.30" y2="30.40" stroke="#000" stroke-width="1.0" />
<text x="590.00" y="33.10" font-size="8.6" text-anchor="end" fill="#111">2.00</text>
<line x1="594.65" y1="114.00" x2="681.50" y2="114.00" stroke="#333" stroke-width="1.2" />
<text x="612.30" y="34.90" font-size="14.2" text-anchor="start" font-weight="normal" font-style="normal" fill="#000" >HCT116</text>
<line x1="595.90" y1="103.50" x2="681.30" y2="103.50" stroke="#222" stroke-width="1.1" stroke-dasharray="2.8,2.8"/>
<line x1="619.50" y1="114.00" x2="619.50" y2="117.60" stroke="#000" stroke-width="1.0" />
<line x1="656.20" y1="114.00" x2="656.20" y2="117.60" stroke="#000" stroke-width="1.0" />
<text x="619.5" y="125.60" font-size="8.5" letter-spacing="0.1" text-anchor="middle" fill="#111">Normal</text>
<text x="656.2" y="125.60" font-size="8.5" letter-spacing="0.1" text-anchor="middle" fill="#111">Enlarged</text>
<text x="569.20" y="72.20" font-size="11" text-anchor="middle" transform="rotate(-90 569.20 72.20)">μm</text>
<circle cx="610.72" cy="104.23" r="1.4" fill="#999" stroke="#000" stroke-width="0.65"/>
<circle cx="625.83" cy="101.53" r="1.4" fill="#999" stroke="#000" stroke-width="0.65"/>
<circle cx="619.39" cy="102.48" r="1.4" fill="#999" stroke="#000" stroke-width="0.65"/>
<circle cx="623.14" cy="104.53" r="1.4" fill="#999" stroke="#000" stroke-width="0.65"/>
<circle cx="609.75" cy="101.09" r="1.4" fill="#999" stroke="#000" stroke-width="0.65"/>
<circle cx="627.56" cy="102.50" r="1.4" fill="#999" stroke="#000" stroke-width="0.65"/>
<circle cx="625.79" cy="100.22" r="1.4" fill="#999" stroke="#000" stroke-width="0.65"/>
<circle cx="618.19" cy="104.21" r="1.4" fill="#999" stroke="#000" stroke-width="0.65"/>
<circle cx="612.99" cy="105.07" r="1.4" fill="#999" stroke="#000" stroke-width="0.65"/>
<circle cx="629.13" cy="101.07" r="1.4" fill="#999" stroke="#000" stroke-width="0.65"/>
<circle cx="608.11" cy="102.91" r="1.4" fill="#999" stroke="#000" stroke-width="0.65"/>
<circle cx="630.04" cy="102.42" r="1.4" fill="#999" stroke="#000" stroke-width="0.65"/>
<circle cx="612.70" cy="102.41" r="1.4" fill="#999" stroke="#000" stroke-width="0.65"/>
<circle cx="608.20" cy="102.03" r="1.4" fill="#999" stroke="#000" stroke-width="0.65"/>
<circle cx="618.01" cy="102.77" r="1.4" fill="#999" stroke="#000" stroke-width="0.65"/>
<circle cx="613.09" cy="101.42" r="1.4" fill="#999" stroke="#000" stroke-width="0.65"/>
<circle cx="612.75" cy="102.60" r="1.4" fill="#999" stroke="#000" stroke-width="0.65"/>
<circle cx="614.45" cy="100.12" r="1.4" fill="#999" stroke="#000" stroke-width="0.65"/>
<circle cx="627.60" cy="103.05" r="1.4" fill="#999" stroke="#000" stroke-width="0.65"/>
<circle cx="622.92" cy="100.90" r="1.4" fill="#999" stroke="#000" stroke-width="0.65"/>
<circle cx="631.32" cy="103.69" r="1.4" fill="#999" stroke="#000" stroke-width="0.65"/>
<circle cx="610.40" cy="102.14" r="1.4" fill="#999" stroke="#000" stroke-width="0.65"/>
<circle cx="624.82" cy="103.97" r="1.4" fill="#999" stroke="#000" stroke-width="0.65"/>
<circle cx="629.97" cy="102.55" r="1.4" fill="#999" stroke="#000" stroke-width="0.65"/>
<circle cx="627.42" cy="103.57" r="1.4" fill="#999" stroke="#000" stroke-width="0.65"/>
<circle cx="614.78" cy="103.30" r="1.4" fill="#999" stroke="#000" stroke-width="0.65"/>
<circle cx="628.68" cy="104.15" r="1.4" fill="#999" stroke="#000" stroke-width="0.65"/>
<circle cx="619.63" cy="103.37" r="1.4" fill="#999" stroke="#000" stroke-width="0.65"/>
<circle cx="608.33" cy="102.07" r="1.4" fill="#999" stroke="#000" stroke-width="0.65"/>
<circle cx="626.64" cy="102.38" r="1.4" fill="#999" stroke="#000" stroke-width="0.65"/>
<circle cx="611.65" cy="103.02" r="1.4" fill="#999" stroke="#000" stroke-width="0.65"/>
<circle cx="624.37" cy="103.79" r="1.4" fill="#999" stroke="#000" stroke-width="0.65"/>
<circle cx="616.49" cy="102.43" r="1.4" fill="#999" stroke="#000" stroke-width="0.65"/>
<circle cx="619.70" cy="104.58" r="1.4" fill="#999" stroke="#000" stroke-width="0.65"/>
<circle cx="620.00" cy="102.12" r="1.4" fill="#999" stroke="#000" stroke-width="0.65"/>
<circle cx="619.25" cy="99.79" r="1.4" fill="#999" stroke="#000" stroke-width="0.65"/>
<circle cx="608.54" cy="103.40" r="1.4" fill="#999" stroke="#000" stroke-width="0.65"/>
<circle cx="631.10" cy="103.04" r="1.4" fill="#999" stroke="#000" stroke-width="0.65"/>
<circle cx="616.95" cy="100.76" r="1.4" fill="#999" stroke="#000" stroke-width="0.65"/>
<circle cx="619.55" cy="105.89" r="1.4" fill="#999" stroke="#000" stroke-width="0.65"/>
<circle cx="625.99" cy="103.00" r="1.4" fill="#999" stroke="#000" stroke-width="0.65"/>
<circle cx="628.15" cy="101.68" r="1.4" fill="#999" stroke="#000" stroke-width="0.65"/>
<circle cx="619.83" cy="105.69" r="1.4" fill="#999" stroke="#000" stroke-width="0.65"/>
<circle cx="621.37" cy="102.54" r="1.4" fill="#999" stroke="#000" stroke-width="0.65"/>
<circle cx="613.96" cy="103.06" r="1.4" fill="#999" stroke="#000" stroke-width="0.65"/>
<circle cx="630.47" cy="101.34" r="1.4" fill="#999" stroke="#000" stroke-width="0.65"/>
<line x1="645.00" y1="77.00" x2="668.50" y2="77.00" stroke="#777" stroke-width="0.8" />
<circle cx="651.22" cy="72.64" r="1.5" fill="#ee8cee" stroke="#111" stroke-width="0.5"/>
<circle cx="653.98" cy="72.12" r="1.5" fill="#ee8cee" stroke="#111" stroke-width="0.5"/>
<circle cx="657.75" cy="72.51" r="1.5" fill="#ee8cee" stroke="#111" stroke-width="0.5"/>
<circle cx="660.95" cy="72.26" r="1.5" fill="#ee8cee" stroke="#111" stroke-width="0.5"/>
<circle cx="649.36" cy="75.31" r="1.5" fill="#ee8cee" stroke="#111" stroke-width="0.5"/>
<circle cx="652.65" cy="75.04" r="1.5" fill="#ee8cee" stroke="#111" stroke-width="0.5"/>
<circle cx="655.86" cy="75.18" r="1.5" fill="#ee8cee" stroke="#111" stroke-width="0.5"/>
<circle cx="659.33" cy="75.54" r="1.5" fill="#ee8cee" stroke="#111" stroke-width="0.5"/>
<circle cx="662.77" cy="75.27" r="1.5" fill="#ee8cee" stroke="#111" stroke-width="0.5"/>
<circle cx="647.62" cy="77.97" r="1.5" fill="#ee8cee" stroke="#111" stroke-width="0.5"/>
<circle cx="650.67" cy="77.83" r="1.5" fill="#ee8cee" stroke="#111" stroke-width="0.5"/>
<circle cx="654.23" cy="78.00" r="1.5" fill="#ee8cee" stroke="#111" stroke-width="0.5"/>
<circle cx="657.48" cy="78.35" r="1.5" fill="#ee8cee" stroke="#111" stroke-width="0.5"/>
<circle cx="660.87" cy="78.15" r="1.5" fill="#ee8cee" stroke="#111" stroke-width="0.5"/>
<circle cx="663.99" cy="77.83" r="1.5" fill="#ee8cee" stroke="#111" stroke-width="0.5"/>
<circle cx="649.20" cy="80.77" r="1.5" fill="#ee8cee" stroke="#111" stroke-width="0.5"/>
<circle cx="652.61" cy="81.28" r="1.5" fill="#ee8cee" stroke="#111" stroke-width="0.5"/>
<circle cx="656.00" cy="80.79" r="1.5" fill="#ee8cee" stroke="#111" stroke-width="0.5"/>
<circle cx="659.44" cy="81.16" r="1.5" fill="#ee8cee" stroke="#111" stroke-width="0.5"/>
<circle cx="662.64" cy="81.23" r="1.5" fill="#ee8cee" stroke="#111" stroke-width="0.5"/>
<circle cx="647.81" cy="84.03" r="1.5" fill="#ee8cee" stroke="#111" stroke-width="0.5"/>
<circle cx="650.86" cy="84.14" r="1.5" fill="#ee8cee" stroke="#111" stroke-width="0.5"/>
<circle cx="654.53" cy="83.65" r="1.5" fill="#ee8cee" stroke="#111" stroke-width="0.5"/>
<circle cx="657.70" cy="83.98" r="1.5" fill="#ee8cee" stroke="#111" stroke-width="0.5"/>
<circle cx="660.83" cy="83.87" r="1.5" fill="#ee8cee" stroke="#111" stroke-width="0.5"/>
<circle cx="649.29" cy="86.98" r="1.5" fill="#ee8cee" stroke="#111" stroke-width="0.5"/>
<circle cx="652.60" cy="86.92" r="1.5" fill="#ee8cee" stroke="#111" stroke-width="0.5"/>
<circle cx="655.81" cy="86.96" r="1.5" fill="#ee8cee" stroke="#111" stroke-width="0.5"/>
<circle cx="659.44" cy="86.70" r="1.5" fill="#ee8cee" stroke="#111" stroke-width="0.5"/>
<circle cx="656.10" cy="46.80" r="1.5" fill="#ee8cee" stroke="#111" stroke-width="0.5"/>
<circle cx="656.10" cy="65.30" r="1.5" fill="#ee8cee" stroke="#111" stroke-width="0.5"/>
<circle cx="644.60" cy="75.50" r="1.5" fill="#ee8cee" stroke="#111" stroke-width="0.5"/>
<circle cx="647.00" cy="70.50" r="1.5" fill="#ee8cee" stroke="#111" stroke-width="0.5"/>
<circle cx="650.00" cy="89.50" r="1.5" fill="#ee8cee" stroke="#111" stroke-width="0.5"/>
<circle cx="659.00" cy="89.50" r="1.5" fill="#ee8cee" stroke="#111" stroke-width="0.5"/>
<circle cx="664.50" cy="72.00" r="1.5" fill="#ee8cee" stroke="#111" stroke-width="0.5"/>
<line x1="595.30" y1="145.00" x2="595.30" y2="229.05" stroke="#555" stroke-width="1.3" />
<line x1="591.30" y1="228.50" x2="595.30" y2="228.50" stroke="#000" stroke-width="1.0" />
<text x="590.00" y="231.20" font-size="8.6" text-anchor="end" fill="#111">0.00</text>
<line x1="592.70" y1="218.06" x2="595.30" y2="218.06" stroke="#000" stroke-width="1.0" />
<line x1="591.30" y1="207.62" x2="595.30" y2="207.62" stroke="#000" stroke-width="1.0" />
<text x="590.00" y="210.32" font-size="8.6" text-anchor="end" fill="#111">0.50</text>
<line x1="592.70" y1="197.19" x2="595.30" y2="197.19" stroke="#000" stroke-width="1.0" />
<line x1="591.30" y1="186.75" x2="595.30" y2="186.75" stroke="#000" stroke-width="1.0" />
<text x="590.00" y="189.45" font-size="8.6" text-anchor="end" fill="#111">1.00</text>
<line x1="592.70" y1="176.31" x2="595.30" y2="176.31" stroke="#000" stroke-width="1.0" />
<line x1="591.30" y1="165.88" x2="595.30" y2="165.88" stroke="#000" stroke-width="1.0" />
<text x="590.00" y="168.57" font-size="8.6" text-anchor="end" fill="#111">1.50</text>
<line x1="592.70" y1="155.44" x2="595.30" y2="155.44" stroke="#000" stroke-width="1.0" />
<line x1="591.30" y1="145.00" x2="595.30" y2="145.00" stroke="#000" stroke-width="1.0" />
<text x="590.00" y="147.70" font-size="8.6" text-anchor="end" fill="#111">2.00</text>
<line x1="594.65" y1="228.50" x2="681.50" y2="228.50" stroke="#333" stroke-width="1.2" />
<text x="614.70" y="149.70" font-size="14.2" text-anchor="start" font-weight="normal" font-style="normal" fill="#000" >HCT-15</text>
<line x1="595.90" y1="218.50" x2="681.30" y2="218.50" stroke="#222" stroke-width="1.1" stroke-dasharray="2.8,2.8"/>
<line x1="619.50" y1="228.50" x2="619.50" y2="232.10" stroke="#000" stroke-width="1.0" />
<line x1="656.20" y1="228.50" x2="656.20" y2="232.10" stroke="#000" stroke-width="1.0" />
<text x="619.5" y="240.40" font-size="8.5" letter-spacing="0.1" text-anchor="middle" fill="#111">Normal</text>
<text x="656.2" y="240.40" font-size="8.5" letter-spacing="0.1" text-anchor="middle" fill="#111">Enlarged</text>
<text x="569.20" y="186.75" font-size="11" text-anchor="middle" transform="rotate(-90 569.20 186.75)">μm</text>
<circle cx="613.21" cy="217.83" r="1.4" fill="#999" stroke="#000" stroke-width="0.65"/>
<circle cx="616.38" cy="218.23" r="1.4" fill="#999" stroke="#000" stroke-width="0.65"/>
<circle cx="622.52" cy="214.94" r="1.4" fill="#999" stroke="#000" stroke-width="0.65"/>
<circle cx="607.82" cy="218.46" r="1.4" fill="#999" stroke="#000" stroke-width="0.65"/>
<circle cx="613.72" cy="216.17" r="1.4" fill="#999" stroke="#000" stroke-width="0.65"/>
<circle cx="631.40" cy="217.53" r="1.4" fill="#999" stroke="#000" stroke-width="0.65"/>
<circle cx="627.58" cy="217.49" r="1.4" fill="#999" stroke="#000" stroke-width="0.65"/>
<circle cx="622.84" cy="215.49" r="1.4" fill="#999" stroke="#000" stroke-width="0.65"/>
<circle cx="622.74" cy="219.83" r="1.4" fill="#999" stroke="#000" stroke-width="0.65"/>
<circle cx="620.06" cy="219.14" r="1.4" fill="#999" stroke="#000" stroke-width="0.65"/>
<circle cx="623.61" cy="215.04" r="1.4" fill="#999" stroke="#000" stroke-width="0.65"/>
<circle cx="625.70" cy="218.08" r="1.4" fill="#999" stroke="#000" stroke-width="0.65"/>
<circle cx="614.73" cy="214.93" r="1.4" fill="#999" stroke="#000" stroke-width="0.65"/>
<circle cx="628.27" cy="217.49" r="1.4" fill="#999" stroke="#000" stroke-width="0.65"/>
<circle cx="624.75" cy="219.70" r="1.4" fill="#999" stroke="#000" stroke-width="0.65"/>
<circle cx="624.64" cy="219.95" r="1.4" fill="#999" stroke="#000" stroke-width="0.65"/>
<circle cx="616.98" cy="219.47" r="1.4" fill="#999" stroke="#000" stroke-width="0.65"/>
<circle cx="618.17" cy="220.36" r="1.4" fill="#999" stroke="#000" stroke-width="0.65"/>
<circle cx="628.59" cy="216.01" r="1.4" fill="#999" stroke="#000" stroke-width="0.65"/>
<circle cx="610.76" cy="216.43" r="1.4" fill="#999" stroke="#000" stroke-width="0.65"/>
<circle cx="630.67" cy="217.42" r="1.4" fill="#999" stroke="#000" stroke-width="0.65"/>
<circle cx="622.54" cy="216.38" r="1.4" fill="#999" stroke="#000" stroke-width="0.65"/>
<circle cx="619.67" cy="216.87" r="1.4" fill="#999" stroke="#000" stroke-width="0.65"/>
<circle cx="615.92" cy="218.11" r="1.4" fill="#999" stroke="#000" stroke-width="0.65"/>
<circle cx="621.52" cy="220.13" r="1.4" fill="#999" stroke="#000" stroke-width="0.65"/>
<circle cx="623.87" cy="220.09" r="1.4" fill="#999" stroke="#000" stroke-width="0.65"/>
<circle cx="628.05" cy="219.67" r="1.4" fill="#999" stroke="#000" stroke-width="0.65"/>
<circle cx="623.61" cy="215.62" r="1.4" fill="#999" stroke="#000" stroke-width="0.65"/>
<circle cx="628.16" cy="219.54" r="1.4" fill="#999" stroke="#000" stroke-width="0.65"/>
<circle cx="629.21" cy="217.85" r="1.4" fill="#999" stroke="#000" stroke-width="0.65"/>
<circle cx="624.63" cy="215.99" r="1.4" fill="#999" stroke="#000" stroke-width="0.65"/>
<circle cx="627.46" cy="217.93" r="1.4" fill="#999" stroke="#000" stroke-width="0.65"/>
<circle cx="614.34" cy="215.17" r="1.4" fill="#999" stroke="#000" stroke-width="0.65"/>
<circle cx="627.99" cy="219.68" r="1.4" fill="#999" stroke="#000" stroke-width="0.65"/>
<circle cx="609.62" cy="218.67" r="1.4" fill="#999" stroke="#000" stroke-width="0.65"/>
<circle cx="617.35" cy="215.42" r="1.4" fill="#999" stroke="#000" stroke-width="0.65"/>
<circle cx="614.55" cy="219.12" r="1.4" fill="#999" stroke="#000" stroke-width="0.65"/>
<circle cx="628.45" cy="215.76" r="1.4" fill="#999" stroke="#000" stroke-width="0.65"/>
<circle cx="622.25" cy="214.80" r="1.4" fill="#999" stroke="#000" stroke-width="0.65"/>
<circle cx="624.74" cy="216.66" r="1.4" fill="#999" stroke="#000" stroke-width="0.65"/>
<circle cx="628.64" cy="219.49" r="1.4" fill="#999" stroke="#000" stroke-width="0.65"/>
<circle cx="619.63" cy="220.79" r="1.4" fill="#999" stroke="#000" stroke-width="0.65"/>
<circle cx="614.93" cy="215.17" r="1.4" fill="#999" stroke="#000" stroke-width="0.65"/>
<circle cx="621.89" cy="214.69" r="1.4" fill="#999" stroke="#000" stroke-width="0.65"/>
<circle cx="612.24" cy="217.16" r="1.4" fill="#999" stroke="#000" stroke-width="0.65"/>
<circle cx="622.15" cy="215.48" r="1.4" fill="#999" stroke="#000" stroke-width="0.65"/>
<line x1="645.00" y1="193.50" x2="669.40" y2="193.50" stroke="#777" stroke-width="0.8" />
<circle cx="652.02" cy="188.52" r="1.5" fill="#ee8cee" stroke="#111" stroke-width="0.5"/>
<circle cx="655.43" cy="188.64" r="1.5" fill="#ee8cee" stroke="#111" stroke-width="0.5"/>
<circle cx="658.69" cy="188.62" r="1.5" fill="#ee8cee" stroke="#111" stroke-width="0.5"/>
<circle cx="661.57" cy="188.35" r="1.5" fill="#ee8cee" stroke="#111" stroke-width="0.5"/>
<circle cx="650.57" cy="191.33" r="1.5" fill="#ee8cee" stroke="#111" stroke-width="0.5"/>
<circle cx="653.84" cy="191.01" r="1.5" fill="#ee8cee" stroke="#111" stroke-width="0.5"/>
<circle cx="656.88" cy="191.09" r="1.5" fill="#ee8cee" stroke="#111" stroke-width="0.5"/>
<circle cx="660.23" cy="191.29" r="1.5" fill="#ee8cee" stroke="#111" stroke-width="0.5"/>
<circle cx="663.21" cy="191.07" r="1.5" fill="#ee8cee" stroke="#111" stroke-width="0.5"/>
<circle cx="648.52" cy="194.36" r="1.5" fill="#ee8cee" stroke="#111" stroke-width="0.5"/>
<circle cx="652.11" cy="193.91" r="1.5" fill="#ee8cee" stroke="#111" stroke-width="0.5"/>
<circle cx="655.43" cy="193.90" r="1.5" fill="#ee8cee" stroke="#111" stroke-width="0.5"/>
<circle cx="658.62" cy="193.89" r="1.5" fill="#ee8cee" stroke="#111" stroke-width="0.5"/>
<circle cx="661.55" cy="194.34" r="1.5" fill="#ee8cee" stroke="#111" stroke-width="0.5"/>
<circle cx="664.98" cy="193.94" r="1.5" fill="#ee8cee" stroke="#111" stroke-width="0.5"/>
<circle cx="650.59" cy="197.21" r="1.5" fill="#ee8cee" stroke="#111" stroke-width="0.5"/>
<circle cx="653.47" cy="197.26" r="1.5" fill="#ee8cee" stroke="#111" stroke-width="0.5"/>
<circle cx="656.92" cy="197.09" r="1.5" fill="#ee8cee" stroke="#111" stroke-width="0.5"/>
<circle cx="660.02" cy="197.25" r="1.5" fill="#ee8cee" stroke="#111" stroke-width="0.5"/>
<circle cx="663.61" cy="197.26" r="1.5" fill="#ee8cee" stroke="#111" stroke-width="0.5"/>
<circle cx="655.49" cy="199.73" r="1.5" fill="#ee8cee" stroke="#111" stroke-width="0.5"/>
<circle cx="658.47" cy="199.65" r="1.5" fill="#ee8cee" stroke="#111" stroke-width="0.5"/>
<circle cx="657.10" cy="182.70" r="1.5" fill="#ee8cee" stroke="#111" stroke-width="0.5"/>
<circle cx="657.10" cy="204.10" r="1.5" fill="#ee8cee" stroke="#111" stroke-width="0.5"/>
<circle cx="646.00" cy="187.00" r="1.5" fill="#ee8cee" stroke="#111" stroke-width="0.5"/>
<circle cx="668.00" cy="186.00" r="1.5" fill="#ee8cee" stroke="#111" stroke-width="0.5"/>
<circle cx="646.00" cy="196.00" r="1.5" fill="#ee8cee" stroke="#111" stroke-width="0.5"/>
<circle cx="669.00" cy="197.00" r="1.5" fill="#ee8cee" stroke="#111" stroke-width="0.5"/>
<line x1="34.40" y1="327.90" x2="34.40" y2="402.90" stroke="#000" stroke-width="1.0" />
<line x1="31.40" y1="402.40" x2="34.40" y2="402.40" stroke="#000" stroke-width="1.0" />
<text x="30.60" y="405.28" font-size="8" text-anchor="end" font-weight="normal" font-style="normal" fill="#000" >0.0</text>
<line x1="31.40" y1="393.09" x2="34.40" y2="393.09" stroke="#000" stroke-width="1.0" />
<text x="30.60" y="395.97" font-size="8" text-anchor="end" font-weight="normal" font-style="normal" fill="#000" >0.5</text>
<line x1="31.40" y1="383.77" x2="34.40" y2="383.77" stroke="#000" stroke-width="1.0" />
<text x="30.60" y="386.65" font-size="8" text-anchor="end" font-weight="normal" font-style="normal" fill="#000" >1.0</text>
<line x1="31.40" y1="374.46" x2="34.40" y2="374.46" stroke="#000" stroke-width="1.0" />
<text x="30.60" y="377.34" font-size="8" text-anchor="end" font-weight="normal" font-style="normal" fill="#000" >1.5</text>
<line x1="31.40" y1="365.15" x2="34.40" y2="365.15" stroke="#000" stroke-width="1.0" />
<text x="30.60" y="368.03" font-size="8" text-anchor="end" font-weight="normal" font-style="normal" fill="#000" >2.0</text>
<line x1="31.40" y1="355.84" x2="34.40" y2="355.84" stroke="#000" stroke-width="1.0" />
<text x="30.60" y="358.72" font-size="8" text-anchor="end" font-weight="normal" font-style="normal" fill="#000" >2.5</text>
<line x1="31.40" y1="346.52" x2="34.40" y2="346.52" stroke="#000" stroke-width="1.0" />
<text x="30.60" y="349.40" font-size="8" text-anchor="end" font-weight="normal" font-style="normal" fill="#000" >3.0</text>
<line x1="31.40" y1="337.21" x2="34.40" y2="337.21" stroke="#000" stroke-width="1.0" />
<text x="30.60" y="340.09" font-size="8" text-anchor="end" font-weight="normal" font-style="normal" fill="#000" >3.5</text>
<line x1="31.40" y1="327.90" x2="34.40" y2="327.90" stroke="#000" stroke-width="1.0" />
<text x="30.60" y="330.78" font-size="8" text-anchor="end" font-weight="normal" font-style="normal" fill="#000" >4.0</text>
<line x1="33.90" y1="402.40" x2="106.70" y2="402.40" stroke="#000" stroke-width="1.0" />
<text x="71.90" y="301.20" font-size="11.5" text-anchor="middle" font-weight="normal" font-style="normal" fill="#000" >HCT116: G1</text>
<line x1="36.00" y1="304.20" x2="107.70" y2="304.20" stroke="#444" stroke-width="1.2" />
<text x="44.60" y="312.80" font-size="8.2" text-anchor="middle" font-weight="normal" font-style="normal" fill="#000" >0.86</text>
<text x="62.80" y="312.80" font-size="8.2" text-anchor="middle" font-weight="normal" font-style="normal" fill="#000" >0.87</text>
<text x="82.00" y="312.80" font-size="8.2" text-anchor="middle" font-weight="normal" font-style="normal" fill="#000" >1.22</text>
<text x="100.20" y="312.80" font-size="8.2" text-anchor="middle" font-weight="normal" font-style="normal" fill="#000" >1.78</text>
<text x="46.40" y="416.00" font-size="9.2" text-anchor="middle" font-weight="normal" font-style="normal" fill="#000" >Ctr</text>
<line x1="46.40" y1="402.40" x2="46.40" y2="405.40" stroke="#000" stroke-width="0.9" />
<text x="62.50" y="416.00" font-size="9.2" text-anchor="middle" font-weight="normal" font-style="normal" fill="#000" >1</text>
<line x1="62.50" y1="402.40" x2="62.50" y2="405.40" stroke="#000" stroke-width="0.9" />
<text x="78.50" y="416.00" font-size="9.2" text-anchor="middle" font-weight="normal" font-style="normal" fill="#000" >2</text>
<line x1="78.50" y1="402.40" x2="78.50" y2="405.40" stroke="#000" stroke-width="0.9" />
<text x="94.30" y="416.00" font-size="9.2" text-anchor="middle" font-weight="normal" font-style="normal" fill="#000" >3</text>
<line x1="94.30" y1="402.40" x2="94.30" y2="405.40" stroke="#000" stroke-width="0.9" />
<line x1="54.70" y1="418.20" x2="105.30" y2="418.20" stroke="#444" stroke-width="1.2" />
<text x="80.00" y="429.20" font-size="8.7" text-anchor="middle" font-weight="normal" font-style="normal" fill="#000" >GPER1 activators</text>
<line x1="60.80" y1="327.90" x2="94.20" y2="327.90" stroke="#555" stroke-width="1.2" />
<text x="77.50" y="324.40" font-size="7.5" text-anchor="middle" font-weight="normal" font-style="normal" fill="#222" >p=0.0005</text>
<line x1="60.80" y1="338.60" x2="82.00" y2="338.60" stroke="#555" stroke-width="1.2" />
<text x="71.50" y="335.60" font-size="7.5" text-anchor="middle" font-weight="normal" font-style="normal" fill="#222" >p=0.016</text>
<text x="14.20" y="364.45" font-size="7.6" text-anchor="middle" transform="rotate(-90 14.20 364.45)">Centriole distance (μm)</text>
<line x1="46.40" y1="382.66" x2="46.40" y2="383.77" stroke="#000" stroke-width="0.9" />
<line x1="46.40" y1="388.99" x2="46.40" y2="390.85" stroke="#000" stroke-width="0.9" />
<line x1="43.90" y1="382.66" x2="48.90" y2="382.66" stroke="#000" stroke-width="0.9" />
<line x1="43.90" y1="390.85" x2="48.90" y2="390.85" stroke="#000" stroke-width="0.9" />
<rect x="40.40" y="383.77" width="12.00" height="5.22" fill="#fff" stroke="#000" stroke-width="0.9" />
<line x1="40.40" y1="386.38" x2="52.40" y2="386.38" stroke="#000" stroke-width="0.9" />
<circle cx="46.40" cy="382.66" r="1.4" fill="none" stroke="#000" stroke-width="0.8"/>
<circle cx="49.30" cy="382.84" r="1.4" fill="none" stroke="#000" stroke-width="0.8"/>
<circle cx="43.50" cy="383.22" r="1.4" fill="none" stroke="#000" stroke-width="0.8"/>
<circle cx="52.20" cy="383.77" r="1.4" fill="none" stroke="#000" stroke-width="0.8"/>
<circle cx="40.60" cy="384.33" r="1.4" fill="none" stroke="#000" stroke-width="0.8"/>
<circle cx="47.85" cy="385.08" r="1.4" fill="none" stroke="#000" stroke-width="0.8"/>
<circle cx="44.95" cy="385.64" r="1.4" fill="none" stroke="#000" stroke-width="0.8"/>
<circle cx="50.75" cy="386.01" r="1.4" fill="none" stroke="#000" stroke-width="0.8"/>
<circle cx="42.05" cy="386.57" r="1.4" fill="none" stroke="#000" stroke-width="0.8"/>
<circle cx="45.02" cy="387.13" r="1.4" fill="none" stroke="#000" stroke-width="0.8"/>
<circle cx="46.20" cy="387.50" r="1.4" fill="none" stroke="#000" stroke-width="0.8"/>
<circle cx="45.57" cy="387.87" r="1.4" fill="none" stroke="#000" stroke-width="0.8"/>
<circle cx="49.30" cy="388.99" r="1.4" fill="none" stroke="#000" stroke-width="0.8"/>
<circle cx="43.50" cy="389.73" r="1.4" fill="none" stroke="#000" stroke-width="0.8"/>
<circle cx="46.40" cy="390.48" r="1.4" fill="none" stroke="#000" stroke-width="0.8"/>
<circle cx="52.20" cy="390.85" r="1.4" fill="none" stroke="#000" stroke-width="0.8"/>
<line x1="62.50" y1="382.84" x2="62.50" y2="384.71" stroke="#000" stroke-width="0.9" />
<line x1="62.50" y1="388.25" x2="62.50" y2="392.34" stroke="#000" stroke-width="0.9" />
<line x1="60.00" y1="382.84" x2="65.00" y2="382.84" stroke="#000" stroke-width="0.9" />
<line x1="60.00" y1="392.34" x2="65.00" y2="392.34" stroke="#000" stroke-width="0.9" />
<rect x="56.50" y="384.71" width="12.00" height="3.54" fill="#fff" stroke="#000" stroke-width="0.9" />
<line x1="56.50" y1="386.20" x2="68.50" y2="386.20" stroke="#000" stroke-width="0.9" />
<circle cx="62.50" cy="382.84" r="1.4" fill="none" stroke="#000" stroke-width="0.8"/>
<circle cx="65.40" cy="383.40" r="1.4" fill="none" stroke="#000" stroke-width="0.8"/>
<circle cx="59.60" cy="384.15" r="1.4" fill="none" stroke="#000" stroke-width="0.8"/>
<circle cx="68.30" cy="384.52" r="1.4" fill="none" stroke="#000" stroke-width="0.8"/>
<circle cx="56.70" cy="385.08" r="1.4" fill="none" stroke="#000" stroke-width="0.8"/>
<circle cx="62.50" cy="385.64" r="1.4" fill="none" stroke="#000" stroke-width="0.8"/>
<circle cx="65.40" cy="386.01" r="1.4" fill="none" stroke="#000" stroke-width="0.8"/>
<circle cx="58.57" cy="386.20" r="1.4" fill="none" stroke="#000" stroke-width="0.8"/>
<circle cx="64.53" cy="386.57" r="1.4" fill="none" stroke="#000" stroke-width="0.8"/>
<circle cx="68.30" cy="387.13" r="1.4" fill="none" stroke="#000" stroke-width="0.8"/>
<circle cx="64.02" cy="387.50" r="1.4" fill="none" stroke="#000" stroke-width="0.8"/>
<circle cx="61.05" cy="388.25" r="1.4" fill="none" stroke="#000" stroke-width="0.8"/>
<circle cx="58.15" cy="388.99" r="1.4" fill="none" stroke="#000" stroke-width="0.8"/>
<circle cx="63.95" cy="390.11" r="1.4" fill="none" stroke="#000" stroke-width="0.8"/>
<circle cx="62.50" cy="392.34" r="1.5" fill="#000"/>
<line x1="59.70" y1="392.34" x2="65.30" y2="392.34" stroke="#000" stroke-width="1.1" />
<line x1="78.50" y1="354.91" x2="78.50" y2="368.50" stroke="#000" stroke-width="0.9" />
<line x1="78.50" y1="388.99" x2="78.50" y2="388.99" stroke="#000" stroke-width="0.9" />
<line x1="76.00" y1="354.91" x2="81.00" y2="354.91" stroke="#000" stroke-width="0.9" />
<line x1="76.00" y1="388.99" x2="81.00" y2="388.99" stroke="#000" stroke-width="0.9" />
<rect x="72.50" y="368.50" width="12.00" height="20.49" fill="#fff" stroke="#000" stroke-width="0.9" />
<line x1="72.50" y1="380.79" x2="84.50" y2="380.79" stroke="#000" stroke-width="0.9" />
<circle cx="78.50" cy="358.44" r="1.4" fill="none" stroke="#000" stroke-width="0.8"/>
<circle cx="78.50" cy="362.36" r="1.4" fill="none" stroke="#000" stroke-width="0.8"/>
<circle cx="78.50" cy="365.89" r="1.4" fill="none" stroke="#000" stroke-width="0.8"/>
<circle cx="78.50" cy="372.23" r="1.4" fill="none" stroke="#000" stroke-width="0.8"/>
<circle cx="81.40" cy="373.53" r="1.4" fill="none" stroke="#000" stroke-width="0.8"/>
<circle cx="78.50" cy="375.95" r="1.4" fill="none" stroke="#000" stroke-width="0.8"/>
<circle cx="79.95" cy="378.19" r="1.4" fill="none" stroke="#000" stroke-width="0.8"/>
<circle cx="77.05" cy="379.68" r="1.4" fill="none" stroke="#000" stroke-width="0.8"/>
<circle cx="78.50" cy="381.91" r="1.4" fill="none" stroke="#000" stroke-width="0.8"/>
<circle cx="81.40" cy="383.77" r="1.4" fill="none" stroke="#000" stroke-width="0.8"/>
<circle cx="78.50" cy="385.64" r="1.4" fill="none" stroke="#000" stroke-width="0.8"/>
<circle cx="81.40" cy="387.13" r="1.4" fill="none" stroke="#000" stroke-width="0.8"/>
<circle cx="78.50" cy="388.25" r="1.4" fill="none" stroke="#000" stroke-width="0.8"/>
<circle cx="78.50" cy="354.91" r="1.5" fill="#000"/>
<line x1="75.70" y1="354.91" x2="81.30" y2="354.91" stroke="#000" stroke-width="1.1" />
<line x1="94.30" y1="341.50" x2="94.30" y2="361.98" stroke="#000" stroke-width="0.9" />
<line x1="94.30" y1="377.26" x2="94.30" y2="384.33" stroke="#000" stroke-width="0.9" />
<line x1="91.80" y1="341.50" x2="96.80" y2="341.50" stroke="#000" stroke-width="0.9" />
<line x1="91.80" y1="384.33" x2="96.80" y2="384.33" stroke="#000" stroke-width="0.9" />
<rect x="88.30" y="361.98" width="12.00" height="15.27" fill="#fff" stroke="#000" stroke-width="0.9" />
<line x1="88.30" y1="370.18" x2="100.30" y2="370.18" stroke="#000" stroke-width="0.9" />
<circle cx="94.30" cy="355.84" r="1.4" fill="none" stroke="#000" stroke-width="0.8"/>
<circle cx="97.20" cy="357.70" r="1.4" fill="none" stroke="#000" stroke-width="0.8"/>
<circle cx="94.30" cy="360.49" r="1.4" fill="none" stroke="#000" stroke-width="0.8"/>
<circle cx="94.30" cy="363.66" r="1.4" fill="none" stroke="#000" stroke-width="0.8"/>
<circle cx="95.75" cy="366.08" r="1.4" fill="none" stroke="#000" stroke-width="0.8"/>
<circle cx="92.85" cy="367.94" r="1.4" fill="none" stroke="#000" stroke-width="0.8"/>
<circle cx="95.75" cy="369.81" r="1.4" fill="none" stroke="#000" stroke-width="0.8"/>
<circle cx="94.30" cy="372.23" r="1.4" fill="none" stroke="#000" stroke-width="0.8"/>
<circle cx="95.75" cy="374.46" r="1.4" fill="none" stroke="#000" stroke-width="0.8"/>
<circle cx="94.30" cy="378.19" r="1.4" fill="none" stroke="#000" stroke-width="0.8"/>
<circle cx="94.30" cy="381.54" r="1.4" fill="none" stroke="#000" stroke-width="0.8"/>
<circle cx="97.20" cy="383.40" r="1.4" fill="none" stroke="#000" stroke-width="0.8"/>
<circle cx="94.30" cy="341.50" r="1.5" fill="#000"/>
<line x1="91.50" y1="341.50" x2="97.10" y2="341.50" stroke="#000" stroke-width="1.1" />
<circle cx="94.30" cy="384.33" r="1.5" fill="#000"/>
<line x1="91.50" y1="384.33" x2="97.10" y2="384.33" stroke="#000" stroke-width="1.1" />
<line x1="159.40" y1="326.50" x2="159.40" y2="402.80" stroke="#000" stroke-width="1.0" />
<line x1="156.40" y1="402.30" x2="159.40" y2="402.30" stroke="#000" stroke-width="1.0" />
<text x="155.60" y="405.18" font-size="8" text-anchor="end" font-weight="normal" font-style="normal" fill="#000" >0.0</text>
<line x1="156.40" y1="392.82" x2="159.40" y2="392.82" stroke="#000" stroke-width="1.0" />
<text x="155.60" y="395.70" font-size="8" text-anchor="end" font-weight="normal" font-style="normal" fill="#000" >0.5</text>
<line x1="156.40" y1="383.35" x2="159.40" y2="383.35" stroke="#000" stroke-width="1.0" />
<text x="155.60" y="386.23" font-size="8" text-anchor="end" font-weight="normal" font-style="normal" fill="#000" >1.0</text>
<line x1="156.40" y1="373.88" x2="159.40" y2="373.88" stroke="#000" stroke-width="1.0" />
<text x="155.60" y="376.75" font-size="8" text-anchor="end" font-weight="normal" font-style="normal" fill="#000" >1.5</text>
<line x1="156.40" y1="364.40" x2="159.40" y2="364.40" stroke="#000" stroke-width="1.0" />
<text x="155.60" y="367.28" font-size="8" text-anchor="end" font-weight="normal" font-style="normal" fill="#000" >2.0</text>
<line x1="156.40" y1="354.93" x2="159.40" y2="354.93" stroke="#000" stroke-width="1.0" />
<text x="155.60" y="357.81" font-size="8" text-anchor="end" font-weight="normal" font-style="normal" fill="#000" >2.5</text>
<line x1="156.40" y1="345.45" x2="159.40" y2="345.45" stroke="#000" stroke-width="1.0" />
<text x="155.60" y="348.33" font-size="8" text-anchor="end" font-weight="normal" font-style="normal" fill="#000" >3.0</text>
<line x1="156.40" y1="335.98" x2="159.40" y2="335.98" stroke="#000" stroke-width="1.0" />
<text x="155.60" y="338.86" font-size="8" text-anchor="end" font-weight="normal" font-style="normal" fill="#000" >3.5</text>
<line x1="156.40" y1="326.50" x2="159.40" y2="326.50" stroke="#000" stroke-width="1.0" />
<text x="155.60" y="329.38" font-size="8" text-anchor="end" font-weight="normal" font-style="normal" fill="#000" >4.0</text>
<line x1="158.90" y1="402.30" x2="230.30" y2="402.30" stroke="#000" stroke-width="1.0" />
<text x="196.20" y="300.20" font-size="11.5" text-anchor="middle" font-weight="normal" font-style="normal" fill="#000" >HCT-15: G1</text>
<line x1="159.70" y1="302.60" x2="232.80" y2="302.60" stroke="#444" stroke-width="1.2" />
<text x="167.70" y="311.50" font-size="8.2" text-anchor="middle" font-weight="normal" font-style="normal" fill="#000" >0.82</text>
<text x="187.80" y="311.50" font-size="8.2" text-anchor="middle" font-weight="normal" font-style="normal" fill="#000" >0.77</text>
<text x="205.90" y="311.50" font-size="8.2" text-anchor="middle" font-weight="normal" font-style="normal" fill="#000" >1.27</text>
<text x="225.10" y="311.50" font-size="8.2" text-anchor="middle" font-weight="normal" font-style="normal" fill="#000" >1.84</text>
<text x="171.40" y="415.50" font-size="9.2" text-anchor="middle" font-weight="normal" font-style="normal" fill="#000" >Ctr</text>
<line x1="171.40" y1="402.30" x2="171.40" y2="405.30" stroke="#000" stroke-width="0.9" />
<text x="186.80" y="415.50" font-size="9.2" text-anchor="middle" font-weight="normal" font-style="normal" fill="#000" >1</text>
<line x1="186.80" y1="402.30" x2="186.80" y2="405.30" stroke="#000" stroke-width="0.9" />
<text x="202.70" y="415.50" font-size="9.2" text-anchor="middle" font-weight="normal" font-style="normal" fill="#000" >2</text>
<line x1="202.70" y1="402.30" x2="202.70" y2="405.30" stroke="#000" stroke-width="0.9" />
<text x="218.70" y="415.50" font-size="9.2" text-anchor="middle" font-weight="normal" font-style="normal" fill="#000" >3</text>
<line x1="218.70" y1="402.30" x2="218.70" y2="405.30" stroke="#000" stroke-width="0.9" />
<line x1="180.00" y1="418.00" x2="230.00" y2="418.00" stroke="#444" stroke-width="1.2" />
<text x="205.00" y="428.80" font-size="8.7" text-anchor="middle" font-weight="normal" font-style="normal" fill="#000" >GPER1 activators</text>
<line x1="183.50" y1="326.30" x2="219.00" y2="326.30" stroke="#555" stroke-width="1.2" />
<text x="201.00" y="323.30" font-size="7.5" text-anchor="middle" font-weight="normal" font-style="normal" fill="#222" >p=0.0001</text>
<line x1="183.50" y1="337.40" x2="205.70" y2="337.40" stroke="#555" stroke-width="1.2" />
<text x="195.00" y="334.40" font-size="7.5" text-anchor="middle" font-weight="normal" font-style="normal" fill="#222" >p=0.005</text>
<text x="138.20" y="363.70" font-size="7.6" text-anchor="middle" transform="rotate(-90 138.20 363.70)">Centriole distance (μm)</text>
<line x1="171.40" y1="371.41" x2="171.40" y2="383.35" stroke="#000" stroke-width="0.9" />
<line x1="171.40" y1="390.55" x2="171.40" y2="393.58" stroke="#000" stroke-width="0.9" />
<line x1="168.90" y1="371.41" x2="173.90" y2="371.41" stroke="#000" stroke-width="0.9" />
<line x1="168.90" y1="393.58" x2="173.90" y2="393.58" stroke="#000" stroke-width="0.9" />
<rect x="165.40" y="383.35" width="12.00" height="7.20" fill="#fff" stroke="#000" stroke-width="0.9" />
<line x1="165.40" y1="386.76" x2="177.40" y2="386.76" stroke="#000" stroke-width="0.9" />
<circle cx="171.40" cy="377.67" r="1.4" fill="none" stroke="#000" stroke-width="0.8"/>
<circle cx="174.30" cy="378.61" r="1.4" fill="none" stroke="#000" stroke-width="0.8"/>
<circle cx="168.50" cy="379.56" r="1.4" fill="none" stroke="#000" stroke-width="0.8"/>
<circle cx="171.40" cy="381.08" r="1.4" fill="none" stroke="#000" stroke-width="0.8"/>
<circle cx="174.30" cy="381.83" r="1.4" fill="none" stroke="#000" stroke-width="0.8"/>
<circle cx="168.50" cy="382.40" r="1.4" fill="none" stroke="#000" stroke-width="0.8"/>
<circle cx="177.20" cy="383.35" r="1.4" fill="none" stroke="#000" stroke-width="0.8"/>
<circle cx="171.40" cy="383.73" r="1.4" fill="none" stroke="#000" stroke-width="0.8"/>
<circle cx="165.60" cy="384.30" r="1.4" fill="none" stroke="#000" stroke-width="0.8"/>
<circle cx="174.30" cy="384.87" r="1.4" fill="none" stroke="#000" stroke-width="0.8"/>
<circle cx="168.50" cy="385.25" r="1.4" fill="none" stroke="#000" stroke-width="0.8"/>
<circle cx="173.87" cy="385.62" r="1.4" fill="none" stroke="#000" stroke-width="0.8"/>
<circle cx="177.20" cy="386.19" r="1.4" fill="none" stroke="#000" stroke-width="0.8"/>
<circle cx="171.40" cy="386.57" r="1.4" fill="none" stroke="#000" stroke-width="0.8"/>
<circle cx="165.60" cy="387.14" r="1.4" fill="none" stroke="#000" stroke-width="0.8"/>
<circle cx="168.43" cy="387.52" r="1.4" fill="none" stroke="#000" stroke-width="0.8"/>
<circle cx="168.45" cy="388.09" r="1.4" fill="none" stroke="#000" stroke-width="0.8"/>
<circle cx="174.30" cy="388.66" r="1.4" fill="none" stroke="#000" stroke-width="0.8"/>
<circle cx="177.20" cy="389.04" r="1.4" fill="none" stroke="#000" stroke-width="0.8"/>
<circle cx="171.40" cy="389.60" r="1.4" fill="none" stroke="#000" stroke-width="0.8"/>
<circle cx="167.05" cy="390.36" r="1.4" fill="none" stroke="#000" stroke-width="0.8"/>
<circle cx="172.41" cy="390.93" r="1.4" fill="none" stroke="#000" stroke-width="0.8"/>
<circle cx="175.75" cy="391.50" r="1.4" fill="none" stroke="#000" stroke-width="0.8"/>
<circle cx="169.95" cy="392.45" r="1.4" fill="none" stroke="#000" stroke-width="0.8"/>
<circle cx="165.60" cy="392.82" r="1.4" fill="none" stroke="#000" stroke-width="0.8"/>
<circle cx="172.85" cy="393.58" r="1.4" fill="none" stroke="#000" stroke-width="0.8"/>
<circle cx="171.40" cy="371.41" r="1.5" fill="#000"/>
<line x1="168.60" y1="371.41" x2="174.20" y2="371.41" stroke="#000" stroke-width="1.1" />
<line x1="186.80" y1="378.99" x2="186.80" y2="385.25" stroke="#000" stroke-width="0.9" />
<line x1="186.80" y1="390.55" x2="186.80" y2="395.29" stroke="#000" stroke-width="0.9" />
<line x1="184.30" y1="378.99" x2="189.30" y2="378.99" stroke="#000" stroke-width="0.9" />
<line x1="184.30" y1="395.29" x2="189.30" y2="395.29" stroke="#000" stroke-width="0.9" />
<rect x="180.80" y="385.25" width="12.00" height="5.31" fill="#fff" stroke="#000" stroke-width="0.9" />
<line x1="180.80" y1="387.71" x2="192.80" y2="387.71" stroke="#000" stroke-width="0.9" />
<circle cx="186.80" cy="383.35" r="1.4" fill="none" stroke="#000" stroke-width="0.8"/>
<circle cx="189.70" cy="384.30" r="1.4" fill="none" stroke="#000" stroke-width="0.8"/>
<circle cx="183.90" cy="385.25" r="1.4" fill="none" stroke="#000" stroke-width="0.8"/>
<circle cx="192.60" cy="385.81" r="1.4" fill="none" stroke="#000" stroke-width="0.8"/>
<circle cx="186.80" cy="386.19" r="1.4" fill="none" stroke="#000" stroke-width="0.8"/>
<circle cx="181.00" cy="386.76" r="1.4" fill="none" stroke="#000" stroke-width="0.8"/>
<circle cx="189.70" cy="387.14" r="1.4" fill="none" stroke="#000" stroke-width="0.8"/>
<circle cx="185.42" cy="387.71" r="1.4" fill="none" stroke="#000" stroke-width="0.8"/>
<circle cx="186.60" cy="388.09" r="1.4" fill="none" stroke="#000" stroke-width="0.8"/>
<circle cx="192.60" cy="388.66" r="1.4" fill="none" stroke="#000" stroke-width="0.8"/>
<circle cx="182.45" cy="389.41" r="1.4" fill="none" stroke="#000" stroke-width="0.8"/>
<circle cx="188.25" cy="390.36" r="1.4" fill="none" stroke="#000" stroke-width="0.8"/>
<circle cx="185.35" cy="391.31" r="1.4" fill="none" stroke="#000" stroke-width="0.8"/>
<circle cx="191.15" cy="392.45" r="1.4" fill="none" stroke="#000" stroke-width="0.8"/>
<circle cx="186.80" cy="393.77" r="1.4" fill="none" stroke="#000" stroke-width="0.8"/>
<circle cx="189.70" cy="395.29" r="1.4" fill="none" stroke="#000" stroke-width="0.8"/>
<circle cx="186.80" cy="378.99" r="1.5" fill="#000"/>
<line x1="184.00" y1="378.99" x2="189.60" y2="378.99" stroke="#000" stroke-width="1.1" />
<line x1="202.70" y1="361.94" x2="202.70" y2="369.52" stroke="#000" stroke-width="0.9" />
<line x1="202.70" y1="385.43" x2="202.70" y2="390.93" stroke="#000" stroke-width="0.9" />
<line x1="200.20" y1="361.94" x2="205.20" y2="361.94" stroke="#000" stroke-width="0.9" />
<line x1="200.20" y1="390.93" x2="205.20" y2="390.93" stroke="#000" stroke-width="0.9" />
<rect x="196.70" y="369.52" width="12.00" height="15.92" fill="#fff" stroke="#000" stroke-width="0.9" />
<line x1="196.70" y1="378.04" x2="208.70" y2="378.04" stroke="#000" stroke-width="0.9" />
<circle cx="202.70" cy="361.94" r="1.4" fill="none" stroke="#000" stroke-width="0.8"/>
<circle cx="202.70" cy="369.14" r="1.4" fill="none" stroke="#000" stroke-width="0.8"/>
<circle cx="205.60" cy="369.71" r="1.4" fill="none" stroke="#000" stroke-width="0.8"/>
<circle cx="202.70" cy="372.93" r="1.4" fill="none" stroke="#000" stroke-width="0.8"/>
<circle cx="202.70" cy="376.15" r="1.4" fill="none" stroke="#000" stroke-width="0.8"/>
<circle cx="202.70" cy="379.18" r="1.4" fill="none" stroke="#000" stroke-width="0.8"/>
<circle cx="204.15" cy="381.45" r="1.4" fill="none" stroke="#000" stroke-width="0.8"/>
<circle cx="202.70" cy="384.87" r="1.4" fill="none" stroke="#000" stroke-width="0.8"/>
<circle cx="205.60" cy="386.19" r="1.4" fill="none" stroke="#000" stroke-width="0.8"/>
<circle cx="202.70" cy="388.09" r="1.4" fill="none" stroke="#000" stroke-width="0.8"/>
<circle cx="205.60" cy="389.79" r="1.4" fill="none" stroke="#000" stroke-width="0.8"/>
<circle cx="202.70" cy="390.93" r="1.4" fill="none" stroke="#000" stroke-width="0.8"/>
<line x1="218.70" y1="358.72" x2="218.70" y2="361.94" stroke="#000" stroke-width="0.9" />
<line x1="218.70" y1="381.83" x2="218.70" y2="381.83" stroke="#000" stroke-width="0.9" />
<line x1="216.20" y1="358.72" x2="221.20" y2="358.72" stroke="#000" stroke-width="0.9" />
<line x1="216.20" y1="381.83" x2="221.20" y2="381.83" stroke="#000" stroke-width="0.9" />
<rect x="212.70" y="361.94" width="12.00" height="19.90" fill="#fff" stroke="#000" stroke-width="0.9" />
<line x1="212.70" y1="367.81" x2="224.70" y2="367.81" stroke="#000" stroke-width="0.9" />
<circle cx="218.70" cy="357.77" r="1.4" fill="none" stroke="#000" stroke-width="0.8"/>
<circle cx="221.60" cy="358.34" r="1.4" fill="none" stroke="#000" stroke-width="0.8"/>
<circle cx="215.80" cy="359.09" r="1.4" fill="none" stroke="#000" stroke-width="0.8"/>
<circle cx="224.50" cy="359.66" r="1.4" fill="none" stroke="#000" stroke-width="0.8"/>
<circle cx="218.70" cy="360.61" r="1.4" fill="none" stroke="#000" stroke-width="0.8"/>
<circle cx="221.60" cy="361.56" r="1.4" fill="none" stroke="#000" stroke-width="0.8"/>
<circle cx="215.80" cy="362.50" r="1.4" fill="none" stroke="#000" stroke-width="0.8"/>
<circle cx="218.70" cy="373.88" r="1.4" fill="none" stroke="#000" stroke-width="0.8"/>
<circle cx="218.70" cy="381.08" r="1.4" fill="none" stroke="#000" stroke-width="0.8"/>
<circle cx="221.60" cy="381.45" r="1.4" fill="none" stroke="#000" stroke-width="0.8"/>
<circle cx="215.80" cy="381.45" r="1.4" fill="none" stroke="#000" stroke-width="0.8"/>
<circle cx="224.50" cy="381.45" r="1.4" fill="none" stroke="#000" stroke-width="0.8"/>
<circle cx="212.90" cy="381.83" r="1.4" fill="none" stroke="#000" stroke-width="0.8"/>
<rect x="245.10" y="304.00" width="48.00" height="48.60" fill="#000" stroke="none" stroke-width="0" />
<rect x="245.10" y="354.10" width="48.00" height="47.80" fill="#000" stroke="none" stroke-width="0" />
<g filter="url(#dotf)"><path d="M269.5,311.5 L279.5,312.5 L275,319 L272,318 Z" fill="#ff1010"/><circle cx="259.6" cy="338.4" r="1.9" fill="#ff1010"/><circle cx="267" cy="342.4" r="1.9" fill="#ff1010"/></g>
<path d="M274,317 L259.6,338.4 L267,342.4 Z" fill="none" stroke="#fff" stroke-width="0.6"/>
<text x="260.50" y="325.00" font-size="8.5" text-anchor="start" font-weight="bold" font-style="normal" fill="#fff" >2</text>
<text x="273.50" y="334.00" font-size="8.5" text-anchor="start" font-weight="bold" font-style="normal" fill="#fff" >3</text>
<text x="258.50" y="349.00" font-size="8.5" text-anchor="start" font-weight="bold" font-style="normal" fill="#fff" >1</text>
<line x1="264.20" y1="350.00" x2="291.00" y2="350.00" stroke="#fff" stroke-width="1.6" />
<g filter="url(#dotf)"><circle cx="269" cy="369.3" r="1.7" fill="#ff1010"/><circle cx="271.3" cy="376.5" r="2.1" fill="#ff1010"/><path d="M263.5,380.5 L268.5,379.5 L269,387.5 L263,386.5 Z" fill="#ff1010"/></g>
<path d="M269,369.3 L271.3,376.5 L266,383.5 Z" fill="none" stroke="#fff" stroke-width="0.6"/>
<text x="273.50" y="374.50" font-size="8.5" text-anchor="start" font-weight="bold" font-style="normal" fill="#fff" >1</text>
<text x="260.50" y="378.00" font-size="8.5" text-anchor="start" font-weight="bold" font-style="normal" fill="#fff" >3</text>
<text x="271.50" y="386.50" font-size="8.5" text-anchor="start" font-weight="bold" font-style="normal" fill="#fff" >2</text>
<line x1="264.00" y1="399.30" x2="290.00" y2="399.30" stroke="#fff" stroke-width="1.6" />
<text x="454.80" y="276.30" font-size="14" text-anchor="middle" font-weight="normal" font-style="normal" fill="#000" >HCT116</text>
<text x="375.50" y="364.30" font-size="11.4" text-anchor="middle" transform="rotate(-90 375.50 364.30)">Percent of cells</text>
<rect x="405.40" y="290.50" width="11.30" height="5.10" fill="#c6c6c6" stroke="none" stroke-width="0" />
<rect x="405.40" y="295.60" width="11.30" height="5.10" fill="#ee2b1c" stroke="none" stroke-width="0" />
<rect x="405.40" y="290.50" width="11.30" height="10.20" fill="none" stroke="#000" stroke-width="1.3" />
<line x1="405.40" y1="295.60" x2="416.70" y2="295.60" stroke="#000" stroke-width="1" />
<text x="422.10" y="299.70" font-size="11.4" text-anchor="start" font-weight="normal" font-style="normal" fill="#000" >CA</text>
<rect x="445.70" y="293.15" width="10.8" height="4.9" rx="1" fill="#fff" stroke="#000" stroke-width="1.4"/>
<text x="462.30" y="299.70" font-size="11.4" text-anchor="start" font-weight="normal" font-style="normal" fill="#000" >ENL CTN2</text>
<text x="430.50" y="311.60" font-size="7.2" text-anchor="middle" font-weight="normal" font-style="italic" fill="#333" >p=0.024</text>
<text x="460.40" y="311.60" font-size="7.2" text-anchor="middle" font-weight="normal" font-style="italic" fill="#333" >p=0.020</text>
<text x="490.70" y="311.60" font-size="7.2" text-anchor="middle" font-weight="normal" font-style="italic" fill="#333" >p=0.026</text>
<line x1="416.50" y1="313.50" x2="443.20" y2="313.50" stroke="#222" stroke-width="0.85" />
<line x1="416.00" y1="315.50" x2="467.80" y2="315.50" stroke="#222" stroke-width="0.85" />
<line x1="416.00" y1="317.50" x2="494.80" y2="317.50" stroke="#222" stroke-width="0.85" />
<line x1="399.40" y1="291.40" x2="399.40" y2="437.10" stroke="#000" stroke-width="1.4" />
<line x1="393.90" y1="436.40" x2="399.40" y2="436.40" stroke="#000" stroke-width="1.4" />
<text x="392.60" y="441.62" font-size="14.5" text-anchor="end" font-weight="normal" font-style="normal" fill="#000" >0</text>
<line x1="395.90" y1="429.15" x2="399.40" y2="429.15" stroke="#000" stroke-width="1.4" />
<line x1="393.90" y1="421.90" x2="399.40" y2="421.90" stroke="#000" stroke-width="1.4" />
<line x1="395.90" y1="414.65" x2="399.40" y2="414.65" stroke="#000" stroke-width="1.4" />
<line x1="393.90" y1="407.40" x2="399.40" y2="407.40" stroke="#000" stroke-width="1.4" />
<text x="392.60" y="412.62" font-size="14.5" text-anchor="end" font-weight="normal" font-style="normal" fill="#000" >2</text>
<line x1="395.90" y1="400.15" x2="399.40" y2="400.15" stroke="#000" stroke-width="1.4" />
<line x1="393.90" y1="392.90" x2="399.40" y2="392.90" stroke="#000" stroke-width="1.4" />
<line x1="395.90" y1="385.65" x2="399.40" y2="385.65" stroke="#000" stroke-width="1.4" />
<line x1="393.90" y1="378.40" x2="399.40" y2="378.40" stroke="#000" stroke-width="1.4" />
<text x="392.60" y="383.62" font-size="14.5" text-anchor="end" font-weight="normal" font-style="normal" fill="#000" >4</text>
<line x1="395.90" y1="371.15" x2="399.40" y2="371.15" stroke="#000" stroke-width="1.4" />
<line x1="393.90" y1="363.90" x2="399.40" y2="363.90" stroke="#000" stroke-width="1.4" />
<line x1="395.90" y1="356.65" x2="399.40" y2="356.65" stroke="#000" stroke-width="1.4" />
<line x1="393.90" y1="349.40" x2="399.40" y2="349.40" stroke="#000" stroke-width="1.4" />
<text x="392.60" y="354.62" font-size="14.5" text-anchor="end" font-weight="normal" font-style="normal" fill="#000" >6</text>
<line x1="395.90" y1="342.15" x2="399.40" y2="342.15" stroke="#000" stroke-width="1.4" />
<line x1="393.90" y1="334.90" x2="399.40" y2="334.90" stroke="#000" stroke-width="1.4" />
<line x1="395.90" y1="327.65" x2="399.40" y2="327.65" stroke="#000" stroke-width="1.4" />
<line x1="393.90" y1="320.40" x2="399.40" y2="320.40" stroke="#000" stroke-width="1.4" />
<text x="392.60" y="325.62" font-size="14.5" text-anchor="end" font-weight="normal" font-style="normal" fill="#000" >8</text>
<line x1="395.90" y1="313.15" x2="399.40" y2="313.15" stroke="#000" stroke-width="1.4" />
<line x1="393.90" y1="305.90" x2="399.40" y2="305.90" stroke="#000" stroke-width="1.4" />
<line x1="395.90" y1="298.65" x2="399.40" y2="298.65" stroke="#000" stroke-width="1.4" />
<line x1="393.90" y1="291.40" x2="399.40" y2="291.40" stroke="#000" stroke-width="1.4" />
<text x="392.60" y="296.62" font-size="14.5" text-anchor="end" font-weight="normal" font-style="normal" fill="#000" >10</text>
<line x1="398.70" y1="436.40" x2="511.50" y2="436.40" stroke="#000" stroke-width="1.4" />
<rect x="406.90" y="403.77" width="19.60" height="32.62" fill="#c6c6c6" stroke="none" stroke-width="0" />
<rect x="406.90" y="403.77" width="19.60" height="32.62" fill="none" stroke="#000" stroke-width="1.5"/>
<line x1="416.70" y1="404.50" x2="416.70" y2="402.32" stroke="#000" stroke-width="1.4" />
<line x1="411.82" y1="404.50" x2="421.58" y2="404.50" stroke="#000" stroke-width="1.4" />
<line x1="411.82" y1="402.32" x2="421.58" y2="402.32" stroke="#000" stroke-width="1.4" />
<line x1="416.70" y1="434.95" x2="416.70" y2="431.32" stroke="#000" stroke-width="1.4" />
<line x1="411.82" y1="434.95" x2="421.58" y2="434.95" stroke="#000" stroke-width="1.4" />
<line x1="411.82" y1="431.32" x2="421.58" y2="431.32" stroke="#000" stroke-width="1.4" />
<circle cx="411.70" cy="400.88" r="2.1620000000000004" fill="#fff" stroke="#000" stroke-width="1.05"/>
<circle cx="416.70" cy="403.05" r="2.1620000000000004" fill="#fff" stroke="#000" stroke-width="1.05"/>
<circle cx="421.70" cy="403.05" r="2.1620000000000004" fill="#fff" stroke="#000" stroke-width="1.05"/>
<circle cx="411.70" cy="434.22" r="2.1620000000000004" fill="#fff" stroke="#000" stroke-width="1.05"/>
<circle cx="416.70" cy="430.60" r="2.1620000000000004" fill="#fff" stroke="#000" stroke-width="1.05"/>
<circle cx="421.70" cy="434.22" r="2.1620000000000004" fill="#fff" stroke="#000" stroke-width="1.05"/>
<rect x="432.40" y="390.87" width="19.50" height="45.53" fill="#fff" stroke="none" stroke-width="0" />
<rect x="432.40" y="335.04" width="19.50" height="55.83" fill="#ee2b1c" stroke="none" stroke-width="0" />
<rect x="432.40" y="335.04" width="19.50" height="101.36" fill="none" stroke="#000" stroke-width="1.5"/>
<line x1="432.40" y1="390.87" x2="451.90" y2="390.87" stroke="#000" stroke-width="1.5" />
<line x1="442.15" y1="345.63" x2="442.15" y2="323.44" stroke="#000" stroke-width="1.4" />
<line x1="437.30" y1="345.63" x2="447.00" y2="345.63" stroke="#000" stroke-width="1.4" />
<line x1="437.30" y1="323.44" x2="447.00" y2="323.44" stroke="#000" stroke-width="1.4" />
<circle cx="442.15" cy="323.44" r="2.1599999999999997" fill="#fff" stroke="#000" stroke-width="1.05"/>
<circle cx="442.15" cy="334.32" r="2.1599999999999997" fill="#fff" stroke="#000" stroke-width="1.05"/>
<circle cx="442.15" cy="345.63" r="2.1599999999999997" fill="#fff" stroke="#000" stroke-width="1.05"/>
<circle cx="435.95" cy="392.75" r="2.1599999999999997" fill="#fff" stroke="#000" stroke-width="1.05"/>
<circle cx="442.15" cy="388.84" r="2.1599999999999997" fill="#fff" stroke="#000" stroke-width="1.05"/>
<circle cx="448.55" cy="388.84" r="2.1599999999999997" fill="#fff" stroke="#000" stroke-width="1.05"/>
<text x="442.15" y="433.40" font-size="6.8" text-anchor="middle" font-weight="normal" font-style="normal" fill="#222" >46%</text>
<rect x="458.60" y="389.71" width="19.00" height="46.69" fill="#fff" stroke="none" stroke-width="0" />
<rect x="458.60" y="339.83" width="19.00" height="49.88" fill="#ee2b1c" stroke="none" stroke-width="0" />
<rect x="458.60" y="339.83" width="19.00" height="96.57" fill="none" stroke="#000" stroke-width="1.5"/>
<line x1="458.60" y1="389.71" x2="477.60" y2="389.71" stroke="#000" stroke-width="1.5" />
<line x1="468.10" y1="353.02" x2="468.10" y2="326.63" stroke="#000" stroke-width="1.4" />
<line x1="463.40" y1="353.02" x2="472.80" y2="353.02" stroke="#000" stroke-width="1.4" />
<line x1="463.40" y1="326.63" x2="472.80" y2="326.63" stroke="#000" stroke-width="1.4" />
<line x1="468.10" y1="398.70" x2="468.10" y2="378.40" stroke="#000" stroke-width="1.4" />
<line x1="463.40" y1="398.70" x2="472.80" y2="398.70" stroke="#000" stroke-width="1.4" />
<line x1="463.40" y1="378.40" x2="472.80" y2="378.40" stroke="#000" stroke-width="1.4" />
<circle cx="468.10" cy="326.63" r="2.15" fill="#fff" stroke="#000" stroke-width="1.05"/>
<circle cx="468.10" cy="338.09" r="2.15" fill="#fff" stroke="#000" stroke-width="1.05"/>
<circle cx="468.10" cy="353.02" r="2.15" fill="#fff" stroke="#000" stroke-width="1.05"/>
<circle cx="468.10" cy="378.40" r="2.15" fill="#fff" stroke="#000" stroke-width="1.05"/>
<circle cx="461.90" cy="396.23" r="2.15" fill="#fff" stroke="#000" stroke-width="1.05"/>
<circle cx="474.20" cy="392.75" r="2.15" fill="#fff" stroke="#000" stroke-width="1.05"/>
<text x="468.10" y="433.40" font-size="6.8" text-anchor="middle" font-weight="normal" font-style="normal" fill="#222" >49%</text>
<rect x="484.60" y="392.32" width="18.40" height="44.08" fill="#fff" stroke="none" stroke-width="0" />
<rect x="484.60" y="340.12" width="18.40" height="52.20" fill="#ee2b1c" stroke="none" stroke-width="0" />
<rect x="484.60" y="340.12" width="18.40" height="96.28" fill="none" stroke="#000" stroke-width="1.5"/>
<line x1="484.60" y1="392.32" x2="503.00" y2="392.32" stroke="#000" stroke-width="1.5" />
<line x1="493.80" y1="345.63" x2="493.80" y2="333.74" stroke="#000" stroke-width="1.4" />
<line x1="489.28" y1="345.63" x2="498.32" y2="345.63" stroke="#000" stroke-width="1.4" />
<line x1="489.28" y1="333.74" x2="498.32" y2="333.74" stroke="#000" stroke-width="1.4" />
<line x1="493.80" y1="399.13" x2="493.80" y2="381.73" stroke="#000" stroke-width="1.4" />
<line x1="489.28" y1="399.13" x2="498.32" y2="399.13" stroke="#000" stroke-width="1.4" />
<line x1="489.28" y1="381.73" x2="498.32" y2="381.73" stroke="#000" stroke-width="1.4" />
<circle cx="487.80" cy="338.09" r="2.1379999999999995" fill="#fff" stroke="#000" stroke-width="1.05"/>
<circle cx="500.00" cy="334.32" r="2.1379999999999995" fill="#fff" stroke="#000" stroke-width="1.05"/>
<circle cx="493.80" cy="345.63" r="2.1379999999999995" fill="#fff" stroke="#000" stroke-width="1.05"/>
<circle cx="493.80" cy="381.73" r="2.1379999999999995" fill="#fff" stroke="#000" stroke-width="1.05"/>
<circle cx="493.80" cy="392.75" r="2.1379999999999995" fill="#fff" stroke="#000" stroke-width="1.05"/>
<circle cx="493.80" cy="399.13" r="2.1379999999999995" fill="#fff" stroke="#000" stroke-width="1.05"/>
<text x="493.80" y="433.40" font-size="6.8" text-anchor="middle" font-weight="normal" font-style="normal" fill="#222" >46%</text>
<text x="415.20" y="448.90" font-size="10.8" text-anchor="middle" font-weight="normal" font-style="normal" fill="#000" >DMSO</text>
<text x="443.60" y="448.90" font-size="10.8" text-anchor="middle" font-weight="normal" font-style="normal" fill="#000" >E2</text>
<text x="468.20" y="448.90" font-size="10.8" text-anchor="middle" font-weight="normal" font-style="normal" fill="#000" >BPA</text>
<text x="494.80" y="448.90" font-size="10.8" text-anchor="middle" font-weight="normal" font-style="normal" fill="#000" >DES</text>
<text x="621.60" y="279.20" font-size="14" text-anchor="middle" font-weight="normal" font-style="normal" fill="#000" >HCT-15</text>
<text x="543.50" y="362.40" font-size="11.4" text-anchor="middle" transform="rotate(-90 543.50 362.40)">Percent of cells</text>
<rect x="573.90" y="287.80" width="11.30" height="5.10" fill="#c6c6c6" stroke="none" stroke-width="0" />
<rect x="573.90" y="292.90" width="11.30" height="5.10" fill="#ee2b1c" stroke="none" stroke-width="0" />
<rect x="573.90" y="287.80" width="11.30" height="10.20" fill="none" stroke="#000" stroke-width="1.3" />
<line x1="573.90" y1="292.90" x2="585.20" y2="292.90" stroke="#000" stroke-width="1" />
<text x="589.70" y="297.00" font-size="11.4" text-anchor="start" font-weight="normal" font-style="normal" fill="#000" >CA</text>
<rect x="613.70" y="290.45" width="10.8" height="4.9" rx="1" fill="#fff" stroke="#000" stroke-width="1.4"/>
<text x="629.60" y="297.00" font-size="11.4" text-anchor="start" font-weight="normal" font-style="normal" fill="#000" >ENL CTN2</text>
<text x="596.50" y="328.30" font-size="7.2" text-anchor="middle" font-weight="normal" font-style="italic" fill="#333" >p=0.018</text>
<text x="626.50" y="328.30" font-size="7.2" text-anchor="middle" font-weight="normal" font-style="italic" fill="#333" >p=0.016</text>
<text x="658.70" y="328.30" font-size="7.2" text-anchor="middle" font-weight="normal" font-style="italic" fill="#333" >p=0.018</text>
<line x1="582.30" y1="330.50" x2="609.30" y2="330.50" stroke="#222" stroke-width="0.85" />
<line x1="582.30" y1="332.50" x2="634.10" y2="332.50" stroke="#222" stroke-width="0.85" />
<line x1="582.30" y1="334.50" x2="661.90" y2="334.50" stroke="#222" stroke-width="0.85" />
<line x1="566.40" y1="288.60" x2="566.40" y2="435.10" stroke="#000" stroke-width="1.4" />
<line x1="560.90" y1="434.40" x2="566.40" y2="434.40" stroke="#000" stroke-width="1.4" />
<text x="559.60" y="439.62" font-size="14.5" text-anchor="end" font-weight="normal" font-style="normal" fill="#000" >0</text>
<line x1="562.90" y1="422.25" x2="566.40" y2="422.25" stroke="#000" stroke-width="1.4" />
<line x1="560.90" y1="410.10" x2="566.40" y2="410.10" stroke="#000" stroke-width="1.4" />
<text x="559.60" y="415.32" font-size="14.5" text-anchor="end" font-weight="normal" font-style="normal" fill="#000" >1</text>
<line x1="562.90" y1="397.95" x2="566.40" y2="397.95" stroke="#000" stroke-width="1.4" />
<line x1="560.90" y1="385.80" x2="566.40" y2="385.80" stroke="#000" stroke-width="1.4" />
<text x="559.60" y="391.02" font-size="14.5" text-anchor="end" font-weight="normal" font-style="normal" fill="#000" >2</text>
<line x1="562.90" y1="373.65" x2="566.40" y2="373.65" stroke="#000" stroke-width="1.4" />
<line x1="560.90" y1="361.50" x2="566.40" y2="361.50" stroke="#000" stroke-width="1.4" />
<text x="559.60" y="366.72" font-size="14.5" text-anchor="end" font-weight="normal" font-style="normal" fill="#000" >3</text>
<line x1="562.90" y1="349.35" x2="566.40" y2="349.35" stroke="#000" stroke-width="1.4" />
<line x1="560.90" y1="337.20" x2="566.40" y2="337.20" stroke="#000" stroke-width="1.4" />
<text x="559.60" y="342.42" font-size="14.5" text-anchor="end" font-weight="normal" font-style="normal" fill="#000" >4</text>
<line x1="562.90" y1="325.05" x2="566.40" y2="325.05" stroke="#000" stroke-width="1.4" />
<line x1="560.90" y1="312.90" x2="566.40" y2="312.90" stroke="#000" stroke-width="1.4" />
<text x="559.60" y="318.12" font-size="14.5" text-anchor="end" font-weight="normal" font-style="normal" fill="#000" >5</text>
<line x1="562.90" y1="300.75" x2="566.40" y2="300.75" stroke="#000" stroke-width="1.4" />
<line x1="560.90" y1="288.60" x2="566.40" y2="288.60" stroke="#000" stroke-width="1.4" />
<text x="559.60" y="293.82" font-size="14.5" text-anchor="end" font-weight="normal" font-style="normal" fill="#000" >6</text>
<line x1="565.70" y1="434.40" x2="677.70" y2="434.40" stroke="#000" stroke-width="1.4" />
<rect x="573.30" y="410.59" width="19.50" height="23.81" fill="#c6c6c6" stroke="none" stroke-width="0" />
<rect x="573.30" y="410.59" width="19.50" height="23.81" fill="none" stroke="#000" stroke-width="1.5"/>
<line x1="583.05" y1="415.93" x2="583.05" y2="404.02" stroke="#000" stroke-width="1.4" />
<line x1="578.20" y1="415.93" x2="587.90" y2="415.93" stroke="#000" stroke-width="1.4" />
<line x1="578.20" y1="404.02" x2="587.90" y2="404.02" stroke="#000" stroke-width="1.4" />
<circle cx="583.05" cy="404.51" r="2.1599999999999997" fill="#fff" stroke="#000" stroke-width="1.05"/>
<circle cx="583.05" cy="410.10" r="2.1599999999999997" fill="#fff" stroke="#000" stroke-width="1.05"/>
<circle cx="583.05" cy="415.93" r="2.1599999999999997" fill="#fff" stroke="#000" stroke-width="1.05"/>
<circle cx="577.05" cy="434.40" r="2.1599999999999997" fill="#fff" stroke="#000" stroke-width="1.05"/>
<circle cx="583.05" cy="434.40" r="2.1599999999999997" fill="#fff" stroke="#000" stroke-width="1.05"/>
<circle cx="589.05" cy="434.40" r="2.1599999999999997" fill="#fff" stroke="#000" stroke-width="1.05"/>
<rect x="598.90" y="402.08" width="19.90" height="32.32" fill="#fff" stroke="none" stroke-width="0" />
<rect x="598.90" y="361.50" width="19.90" height="40.58" fill="#ee2b1c" stroke="none" stroke-width="0" />
<rect x="598.90" y="361.50" width="19.90" height="72.90" fill="none" stroke="#000" stroke-width="1.5"/>
<line x1="598.90" y1="402.08" x2="618.80" y2="402.08" stroke="#000" stroke-width="1.5" />
<line x1="608.85" y1="373.65" x2="608.85" y2="349.35" stroke="#000" stroke-width="1.4" />
<line x1="603.88" y1="373.65" x2="613.82" y2="373.65" stroke="#000" stroke-width="1.4" />
<line x1="603.88" y1="349.35" x2="613.82" y2="349.35" stroke="#000" stroke-width="1.4" />
<line x1="608.85" y1="416.17" x2="608.85" y2="390.66" stroke="#000" stroke-width="1.4" />
<line x1="603.88" y1="416.17" x2="613.82" y2="416.17" stroke="#000" stroke-width="1.4" />
<line x1="603.88" y1="390.66" x2="613.82" y2="390.66" stroke="#000" stroke-width="1.4" />
<circle cx="608.85" cy="349.35" r="2.1679999999999993" fill="#fff" stroke="#000" stroke-width="1.05"/>
<circle cx="608.85" cy="360.28" r="2.1679999999999993" fill="#fff" stroke="#000" stroke-width="1.05"/>
<circle cx="608.85" cy="373.65" r="2.1679999999999993" fill="#fff" stroke="#000" stroke-width="1.05"/>
<circle cx="608.85" cy="390.66" r="2.1679999999999993" fill="#fff" stroke="#000" stroke-width="1.05"/>
<circle cx="608.85" cy="399.16" r="2.1679999999999993" fill="#fff" stroke="#000" stroke-width="1.05"/>
<circle cx="608.85" cy="416.17" r="2.1679999999999993" fill="#fff" stroke="#000" stroke-width="1.05"/>
<text x="608.85" y="431.40" font-size="6.8" text-anchor="middle" font-weight="normal" font-style="normal" fill="#222" >43%</text>
<rect x="624.80" y="398.19" width="20.10" height="36.21" fill="#fff" stroke="none" stroke-width="0" />
<rect x="624.80" y="347.41" width="20.10" height="50.79" fill="#ee2b1c" stroke="none" stroke-width="0" />
<rect x="624.80" y="347.41" width="20.10" height="86.99" fill="none" stroke="#000" stroke-width="1.5"/>
<line x1="624.80" y1="398.19" x2="644.90" y2="398.19" stroke="#000" stroke-width="1.5" />
<line x1="634.85" y1="354.21" x2="634.85" y2="340.84" stroke="#000" stroke-width="1.4" />
<line x1="629.82" y1="354.21" x2="639.88" y2="354.21" stroke="#000" stroke-width="1.4" />
<line x1="629.82" y1="340.84" x2="639.88" y2="340.84" stroke="#000" stroke-width="1.4" />
<circle cx="630.85" cy="342.55" r="2.172" fill="#fff" stroke="#000" stroke-width="1.05"/>
<circle cx="638.85" cy="342.55" r="2.172" fill="#fff" stroke="#000" stroke-width="1.05"/>
<circle cx="634.85" cy="354.21" r="2.172" fill="#fff" stroke="#000" stroke-width="1.05"/>
<circle cx="629.85" cy="397.95" r="2.172" fill="#fff" stroke="#000" stroke-width="1.05"/>
<circle cx="634.85" cy="397.95" r="2.172" fill="#fff" stroke="#000" stroke-width="1.05"/>
<circle cx="639.85" cy="397.95" r="2.172" fill="#fff" stroke="#000" stroke-width="1.05"/>
<text x="634.85" y="431.40" font-size="6.8" text-anchor="middle" font-weight="normal" font-style="normal" fill="#222" >42%</text>
<rect x="652.20" y="402.08" width="19.50" height="32.32" fill="#fff" stroke="none" stroke-width="0" />
<rect x="652.20" y="359.80" width="19.50" height="42.28" fill="#ee2b1c" stroke="none" stroke-width="0" />
<rect x="652.20" y="359.80" width="19.50" height="74.60" fill="none" stroke="#000" stroke-width="1.5"/>
<line x1="652.20" y1="402.08" x2="671.70" y2="402.08" stroke="#000" stroke-width="1.5" />
<line x1="661.95" y1="368.79" x2="661.95" y2="351.78" stroke="#000" stroke-width="1.4" />
<line x1="657.10" y1="368.79" x2="666.80" y2="368.79" stroke="#000" stroke-width="1.4" />
<line x1="657.10" y1="351.78" x2="666.80" y2="351.78" stroke="#000" stroke-width="1.4" />
<line x1="661.95" y1="410.10" x2="661.95" y2="391.88" stroke="#000" stroke-width="1.4" />
<line x1="657.10" y1="410.10" x2="666.80" y2="410.10" stroke="#000" stroke-width="1.4" />
<line x1="657.10" y1="391.88" x2="666.80" y2="391.88" stroke="#000" stroke-width="1.4" />
<circle cx="656.95" cy="354.21" r="2.1599999999999997" fill="#fff" stroke="#000" stroke-width="1.05"/>
<circle cx="666.95" cy="354.21" r="2.1599999999999997" fill="#fff" stroke="#000" stroke-width="1.05"/>
<circle cx="661.95" cy="368.79" r="2.1599999999999997" fill="#fff" stroke="#000" stroke-width="1.05"/>
<circle cx="661.95" cy="391.88" r="2.1599999999999997" fill="#fff" stroke="#000" stroke-width="1.05"/>
<circle cx="661.95" cy="402.08" r="2.1599999999999997" fill="#fff" stroke="#000" stroke-width="1.05"/>
<circle cx="661.95" cy="410.10" r="2.1599999999999997" fill="#fff" stroke="#000" stroke-width="1.05"/>
<text x="661.95" y="431.40" font-size="6.8" text-anchor="middle" font-weight="normal" font-style="normal" fill="#222" >43%</text>
<text x="580.00" y="448.40" font-size="10.8" text-anchor="middle" font-weight="normal" font-style="normal" fill="#000" >DMSO</text>
<text x="609.30" y="448.40" font-size="10.8" text-anchor="middle" font-weight="normal" font-style="normal" fill="#000" >E2</text>
<text x="635.30" y="448.40" font-size="10.8" text-anchor="middle" font-weight="normal" font-style="normal" fill="#000" >BPA</text>
<text x="663.40" y="448.40" font-size="10.8" text-anchor="middle" font-weight="normal" font-style="normal" fill="#000" >DES</text>
<text x="96.80" y="499.80" font-size="14" text-anchor="middle" font-weight="normal" font-style="normal" fill="#000" >HCT116</text>
<text x="17.50" y="585.80" font-size="11.4" text-anchor="middle" transform="rotate(-90 17.50 585.80)">Percent of cells</text>
<rect x="47.30" y="512.90" width="11.30" height="5.10" fill="#c6c6c6" stroke="none" stroke-width="0" />
<rect x="47.30" y="518.00" width="11.30" height="5.10" fill="#64c35c" stroke="none" stroke-width="0" />
<rect x="47.30" y="512.90" width="11.30" height="10.20" fill="none" stroke="#000" stroke-width="1.3" />
<line x1="47.30" y1="518.00" x2="58.60" y2="518.00" stroke="#000" stroke-width="1" />
<text x="63.70" y="522.10" font-size="11.4" text-anchor="start" font-weight="normal" font-style="normal" fill="#000" >CA</text>
<rect x="87.70" y="515.55" width="10.8" height="4.9" rx="1" fill="#fff" stroke="#000" stroke-width="1.4"/>
<text x="101.50" y="522.10" font-size="11.4" text-anchor="start" font-weight="normal" font-style="normal" fill="#000" >ENL CTN2</text>
<text x="95.00" y="537.40" font-size="7.2" text-anchor="middle" font-weight="normal" font-style="italic" fill="#333" >p=0.041</text>
<line x1="69.80" y1="541.50" x2="121.00" y2="541.50" stroke="#777" stroke-width="0.85" />
<line x1="40.20" y1="513.00" x2="40.20" y2="660.10" stroke="#000" stroke-width="1.4" />
<line x1="34.70" y1="659.40" x2="40.20" y2="659.40" stroke="#000" stroke-width="1.4" />
<text x="33.40" y="664.62" font-size="14.5" text-anchor="end" font-weight="normal" font-style="normal" fill="#000" >0</text>
<line x1="36.70" y1="652.08" x2="40.20" y2="652.08" stroke="#000" stroke-width="1.4" />
<line x1="34.70" y1="644.76" x2="40.20" y2="644.76" stroke="#000" stroke-width="1.4" />
<line x1="36.70" y1="637.44" x2="40.20" y2="637.44" stroke="#000" stroke-width="1.4" />
<line x1="34.70" y1="630.12" x2="40.20" y2="630.12" stroke="#000" stroke-width="1.4" />
<text x="33.40" y="635.34" font-size="14.5" text-anchor="end" font-weight="normal" font-style="normal" fill="#000" >2</text>
<line x1="36.70" y1="622.80" x2="40.20" y2="622.80" stroke="#000" stroke-width="1.4" />
<line x1="34.70" y1="615.48" x2="40.20" y2="615.48" stroke="#000" stroke-width="1.4" />
<line x1="36.70" y1="608.16" x2="40.20" y2="608.16" stroke="#000" stroke-width="1.4" />
<line x1="34.70" y1="600.84" x2="40.20" y2="600.84" stroke="#000" stroke-width="1.4" />
<text x="33.40" y="606.06" font-size="14.5" text-anchor="end" font-weight="normal" font-style="normal" fill="#000" >4</text>
<line x1="36.70" y1="593.52" x2="40.20" y2="593.52" stroke="#000" stroke-width="1.4" />
<line x1="34.70" y1="586.20" x2="40.20" y2="586.20" stroke="#000" stroke-width="1.4" />
<line x1="36.70" y1="578.88" x2="40.20" y2="578.88" stroke="#000" stroke-width="1.4" />
<line x1="34.70" y1="571.56" x2="40.20" y2="571.56" stroke="#000" stroke-width="1.4" />
<text x="33.40" y="576.78" font-size="14.5" text-anchor="end" font-weight="normal" font-style="normal" fill="#000" >6</text>
<line x1="36.70" y1="564.24" x2="40.20" y2="564.24" stroke="#000" stroke-width="1.4" />
<line x1="34.70" y1="556.92" x2="40.20" y2="556.92" stroke="#000" stroke-width="1.4" />
<line x1="36.70" y1="549.60" x2="40.20" y2="549.60" stroke="#000" stroke-width="1.4" />
<line x1="34.70" y1="542.28" x2="40.20" y2="542.28" stroke="#000" stroke-width="1.4" />
<text x="33.40" y="547.50" font-size="14.5" text-anchor="end" font-weight="normal" font-style="normal" fill="#000" >8</text>
<line x1="36.70" y1="534.96" x2="40.20" y2="534.96" stroke="#000" stroke-width="1.4" />
<line x1="34.70" y1="527.64" x2="40.20" y2="527.64" stroke="#000" stroke-width="1.4" />
<line x1="36.70" y1="520.32" x2="40.20" y2="520.32" stroke="#000" stroke-width="1.4" />
<line x1="34.70" y1="513.00" x2="40.20" y2="513.00" stroke="#000" stroke-width="1.4" />
<text x="33.40" y="518.22" font-size="14.5" text-anchor="end" font-weight="normal" font-style="normal" fill="#000" >10</text>
<line x1="39.50" y1="659.40" x2="152.20" y2="659.40" stroke="#000" stroke-width="1.4" />
<rect x="57.30" y="649.15" width="30.70" height="10.25" fill="#fff" stroke="none" stroke-width="0" />
<rect x="57.30" y="617.68" width="30.70" height="31.48" fill="#c6c6c6" stroke="none" stroke-width="0" />
<rect x="57.30" y="617.68" width="30.70" height="41.72" fill="none" stroke="#000" stroke-width="1.5"/>
<line x1="57.30" y1="649.15" x2="88.00" y2="649.15" stroke="#000" stroke-width="1.5" />
<line x1="72.65" y1="619.14" x2="72.65" y2="616.21" stroke="#000" stroke-width="1.4" />
<line x1="64.44" y1="619.14" x2="80.86" y2="619.14" stroke="#000" stroke-width="1.4" />
<line x1="64.44" y1="616.21" x2="80.86" y2="616.21" stroke="#000" stroke-width="1.4" />
<circle cx="65.65" cy="615.48" r="2.384" fill="#fff" stroke="#000" stroke-width="1.05"/>
<circle cx="72.65" cy="617.68" r="2.384" fill="#fff" stroke="#000" stroke-width="1.05"/>
<circle cx="79.65" cy="617.68" r="2.384" fill="#fff" stroke="#000" stroke-width="1.05"/>
<circle cx="65.65" cy="648.42" r="2.384" fill="#fff" stroke="#000" stroke-width="1.05"/>
<circle cx="72.65" cy="648.42" r="2.384" fill="#fff" stroke="#000" stroke-width="1.05"/>
<circle cx="79.65" cy="648.42" r="2.384" fill="#fff" stroke="#000" stroke-width="1.05"/>
<text x="72.65" y="656.40" font-size="6.8" text-anchor="middle" font-weight="normal" font-style="normal" fill="#222" >27%</text>
<rect x="104.40" y="600.11" width="31.40" height="59.29" fill="#fff" stroke="none" stroke-width="0" />
<rect x="104.40" y="552.53" width="31.40" height="47.58" fill="#64c35c" stroke="none" stroke-width="0" />
<rect x="104.40" y="552.53" width="31.40" height="106.87" fill="none" stroke="#000" stroke-width="1.5"/>
<line x1="104.40" y1="600.11" x2="135.80" y2="600.11" stroke="#000" stroke-width="1.5" />
<line x1="120.10" y1="553.99" x2="120.10" y2="551.06" stroke="#000" stroke-width="1.4" />
<line x1="111.68" y1="553.99" x2="128.52" y2="553.99" stroke="#000" stroke-width="1.4" />
<line x1="111.68" y1="551.06" x2="128.52" y2="551.06" stroke="#000" stroke-width="1.4" />
<line x1="120.10" y1="605.23" x2="120.10" y2="594.98" stroke="#000" stroke-width="1.4" />
<line x1="111.68" y1="605.23" x2="128.52" y2="605.23" stroke="#000" stroke-width="1.4" />
<line x1="111.68" y1="594.98" x2="128.52" y2="594.98" stroke="#000" stroke-width="1.4" />
<circle cx="113.10" cy="549.60" r="2.398" fill="#fff" stroke="#000" stroke-width="1.05"/>
<circle cx="120.10" cy="553.26" r="2.398" fill="#fff" stroke="#000" stroke-width="1.05"/>
<circle cx="127.10" cy="552.53" r="2.398" fill="#fff" stroke="#000" stroke-width="1.05"/>
<circle cx="120.10" cy="593.52" r="2.398" fill="#fff" stroke="#000" stroke-width="1.05"/>
<circle cx="117.10" cy="603.77" r="2.398" fill="#fff" stroke="#000" stroke-width="1.05"/>
<circle cx="123.10" cy="600.84" r="2.398" fill="#fff" stroke="#000" stroke-width="1.05"/>
<text x="120.10" y="656.40" font-size="6.8" text-anchor="middle" font-weight="normal" font-style="normal" fill="#222" >56%</text>
<text x="73.00" y="675.00" font-size="10.8" text-anchor="middle" font-weight="normal" font-style="normal" fill="#000" >DMSO</text>
<text x="118.20" y="675.00" font-size="10.8" text-anchor="middle" font-weight="normal" font-style="normal" fill="#000" >G-1</text>
<text x="262.30" y="499.80" font-size="14" text-anchor="middle" font-weight="normal" font-style="normal" fill="#000" >HCT-15</text>
<text x="184.00" y="586.70" font-size="11.4" text-anchor="middle" transform="rotate(-90 184.00 586.70)">Percent of cells</text>
<rect x="213.40" y="513.40" width="11.30" height="5.10" fill="#c6c6c6" stroke="none" stroke-width="0" />
<rect x="213.40" y="518.50" width="11.30" height="5.10" fill="#64c35c" stroke="none" stroke-width="0" />
<rect x="213.40" y="513.40" width="11.30" height="10.20" fill="none" stroke="#000" stroke-width="1.3" />
<line x1="213.40" y1="518.50" x2="224.70" y2="518.50" stroke="#000" stroke-width="1" />
<text x="229.90" y="522.60" font-size="11.4" text-anchor="start" font-weight="normal" font-style="normal" fill="#000" >CA</text>
<rect x="254.00" y="516.05" width="10.8" height="4.9" rx="1" fill="#fff" stroke="#000" stroke-width="1.4"/>
<text x="268.80" y="522.60" font-size="11.4" text-anchor="start" font-weight="normal" font-style="normal" fill="#000" >ENL CTN2</text>
<text x="262.90" y="546.70" font-size="7.2" text-anchor="middle" font-weight="normal" font-style="italic" fill="#333" >p=0.016</text>
<line x1="237.30" y1="551.50" x2="288.90" y2="551.50" stroke="#222" stroke-width="0.85" />
<line x1="207.20" y1="513.60" x2="207.20" y2="661.30" stroke="#000" stroke-width="1.4" />
<line x1="201.70" y1="660.60" x2="207.20" y2="660.60" stroke="#000" stroke-width="1.4" />
<text x="200.40" y="665.82" font-size="14.5" text-anchor="end" font-weight="normal" font-style="normal" fill="#000" >0</text>
<line x1="203.70" y1="648.35" x2="207.20" y2="648.35" stroke="#000" stroke-width="1.4" />
<line x1="201.70" y1="636.10" x2="207.20" y2="636.10" stroke="#000" stroke-width="1.4" />
<text x="200.40" y="641.32" font-size="14.5" text-anchor="end" font-weight="normal" font-style="normal" fill="#000" >1</text>
<line x1="203.70" y1="623.85" x2="207.20" y2="623.85" stroke="#000" stroke-width="1.4" />
<line x1="201.70" y1="611.60" x2="207.20" y2="611.60" stroke="#000" stroke-width="1.4" />
<text x="200.40" y="616.82" font-size="14.5" text-anchor="end" font-weight="normal" font-style="normal" fill="#000" >2</text>
<line x1="203.70" y1="599.35" x2="207.20" y2="599.35" stroke="#000" stroke-width="1.4" />
<line x1="201.70" y1="587.10" x2="207.20" y2="587.10" stroke="#000" stroke-width="1.4" />
<text x="200.40" y="592.32" font-size="14.5" text-anchor="end" font-weight="normal" font-style="normal" fill="#000" >3</text>
<line x1="203.70" y1="574.85" x2="207.20" y2="574.85" stroke="#000" stroke-width="1.4" />
<line x1="201.70" y1="562.60" x2="207.20" y2="562.60" stroke="#000" stroke-width="1.4" />
<text x="200.40" y="567.82" font-size="14.5" text-anchor="end" font-weight="normal" font-style="normal" fill="#000" >4</text>
<line x1="203.70" y1="550.35" x2="207.20" y2="550.35" stroke="#000" stroke-width="1.4" />
<line x1="201.70" y1="538.10" x2="207.20" y2="538.10" stroke="#000" stroke-width="1.4" />
<text x="200.40" y="543.32" font-size="14.5" text-anchor="end" font-weight="normal" font-style="normal" fill="#000" >5</text>
<line x1="203.70" y1="525.85" x2="207.20" y2="525.85" stroke="#000" stroke-width="1.4" />
<line x1="201.70" y1="513.60" x2="207.20" y2="513.60" stroke="#000" stroke-width="1.4" />
<text x="200.40" y="518.82" font-size="14.5" text-anchor="end" font-weight="normal" font-style="normal" fill="#000" >6</text>
<line x1="206.50" y1="660.60" x2="318.90" y2="660.60" stroke="#000" stroke-width="1.4" />
<rect x="222.80" y="640.51" width="31.50" height="20.09" fill="#c6c6c6" stroke="none" stroke-width="0" />
<rect x="222.80" y="640.51" width="31.50" height="20.09" fill="none" stroke="#000" stroke-width="1.5"/>
<line x1="238.55" y1="648.84" x2="238.55" y2="629.24" stroke="#000" stroke-width="1.4" />
<line x1="230.10" y1="648.84" x2="247.00" y2="648.84" stroke="#000" stroke-width="1.4" />
<line x1="230.10" y1="629.24" x2="247.00" y2="629.24" stroke="#000" stroke-width="1.4" />
<circle cx="238.55" cy="629.24" r="2.4" fill="#fff" stroke="#000" stroke-width="1.05"/>
<circle cx="238.55" cy="642.23" r="2.4" fill="#fff" stroke="#000" stroke-width="1.05"/>
<circle cx="238.55" cy="648.35" r="2.4" fill="#fff" stroke="#000" stroke-width="1.05"/>
<circle cx="229.05" cy="660.60" r="2.4" fill="#fff" stroke="#000" stroke-width="1.05"/>
<circle cx="238.55" cy="660.60" r="2.4" fill="#fff" stroke="#000" stroke-width="1.05"/>
<circle cx="248.05" cy="660.60" r="2.4" fill="#fff" stroke="#000" stroke-width="1.05"/>
<rect x="270.40" y="625.81" width="31.60" height="34.79" fill="#fff" stroke="none" stroke-width="0" />
<rect x="270.40" y="579.01" width="31.60" height="46.80" fill="#64c35c" stroke="none" stroke-width="0" />
<rect x="270.40" y="579.01" width="31.60" height="81.59" fill="none" stroke="#000" stroke-width="1.5"/>
<line x1="270.40" y1="625.81" x2="302.00" y2="625.81" stroke="#000" stroke-width="1.5" />
<line x1="286.20" y1="592.00" x2="286.20" y2="565.05" stroke="#000" stroke-width="1.4" />
<line x1="277.72" y1="592.00" x2="294.68" y2="592.00" stroke="#000" stroke-width="1.4" />
<line x1="277.72" y1="565.05" x2="294.68" y2="565.05" stroke="#000" stroke-width="1.4" />
<line x1="286.20" y1="631.20" x2="286.20" y2="617.73" stroke="#000" stroke-width="1.4" />
<line x1="277.72" y1="631.20" x2="294.68" y2="631.20" stroke="#000" stroke-width="1.4" />
<line x1="277.72" y1="617.73" x2="294.68" y2="617.73" stroke="#000" stroke-width="1.4" />
<circle cx="286.20" cy="562.60" r="2.402" fill="#fff" stroke="#000" stroke-width="1.05"/>
<circle cx="282.20" cy="585.88" r="2.402" fill="#fff" stroke="#000" stroke-width="1.05"/>
<circle cx="290.20" cy="585.88" r="2.402" fill="#fff" stroke="#000" stroke-width="1.05"/>
<circle cx="286.20" cy="617.73" r="2.402" fill="#fff" stroke="#000" stroke-width="1.05"/>
<circle cx="283.20" cy="628.75" r="2.402" fill="#fff" stroke="#000" stroke-width="1.05"/>
<circle cx="289.20" cy="628.75" r="2.402" fill="#fff" stroke="#000" stroke-width="1.05"/>
<text x="286.20" y="657.60" font-size="6.8" text-anchor="middle" font-weight="normal" font-style="normal" fill="#222" >42%</text>
<text x="238.20" y="675.00" font-size="10.8" text-anchor="middle" font-weight="normal" font-style="normal" fill="#000" >DMSO</text>
<text x="285.30" y="675.00" font-size="10.8" text-anchor="middle" font-weight="normal" font-style="normal" fill="#000" >G-1</text>
<text x="446.00" y="499.40" font-size="14" text-anchor="middle" font-weight="normal" font-style="normal" fill="#000" >HCT116</text>
<text x="375.60" y="588.70" font-size="11.4" text-anchor="middle" transform="rotate(-90 375.60 588.70)">Percent of cells</text>
<rect x="405.50" y="511.00" width="11.30" height="4.80" fill="#c6c6c6" stroke="none" stroke-width="0" />
<rect x="405.50" y="515.80" width="11.30" height="4.80" fill="#e6730f" stroke="none" stroke-width="0" />
<rect x="405.50" y="520.60" width="11.30" height="4.80" fill="#6b3a14" stroke="none" stroke-width="0" />
<rect x="405.50" y="511.00" width="11.30" height="14.40" fill="none" stroke="#000" stroke-width="1.3" />
<line x1="405.50" y1="515.80" x2="416.80" y2="515.80" stroke="#000" stroke-width="1" />
<line x1="405.50" y1="520.60" x2="416.80" y2="520.60" stroke="#000" stroke-width="1" />
<text x="422.10" y="522.30" font-size="11.4" text-anchor="start" font-weight="normal" font-style="normal" fill="#000" >CA</text>
<rect x="446.70" y="515.75" width="10.8" height="4.9" rx="1" fill="#fff" stroke="#000" stroke-width="1.4"/>
<text x="461.40" y="522.30" font-size="11.4" text-anchor="start" font-weight="normal" font-style="normal" fill="#000" >ENL CTN2</text>
<text x="438.10" y="538.80" font-size="7.2" text-anchor="middle" font-weight="normal" font-style="italic" fill="#333" >p=0.029</text>
<text x="481.40" y="538.80" font-size="7.2" text-anchor="middle" font-weight="normal" font-style="italic" fill="#333" >p=0.045</text>
<line x1="419.00" y1="541.50" x2="453.80" y2="541.50" stroke="#222" stroke-width="0.85" />
<line x1="419.00" y1="543.50" x2="487.10" y2="543.50" stroke="#222" stroke-width="0.85" />
<line x1="393.80" y1="516.20" x2="393.80" y2="662.90" stroke="#000" stroke-width="1.4" />
<line x1="388.30" y1="662.20" x2="393.80" y2="662.20" stroke="#000" stroke-width="1.4" />
<text x="387.00" y="667.42" font-size="14.5" text-anchor="end" font-weight="normal" font-style="normal" fill="#000" >0</text>
<line x1="390.30" y1="654.90" x2="393.80" y2="654.90" stroke="#000" stroke-width="1.4" />
<line x1="388.30" y1="647.60" x2="393.80" y2="647.60" stroke="#000" stroke-width="1.4" />
<line x1="390.30" y1="640.30" x2="393.80" y2="640.30" stroke="#000" stroke-width="1.4" />
<line x1="388.30" y1="633.00" x2="393.80" y2="633.00" stroke="#000" stroke-width="1.4" />
<text x="387.00" y="638.22" font-size="14.5" text-anchor="end" font-weight="normal" font-style="normal" fill="#000" >2</text>
<line x1="390.30" y1="625.70" x2="393.80" y2="625.70" stroke="#000" stroke-width="1.4" />
<line x1="388.30" y1="618.40" x2="393.80" y2="618.40" stroke="#000" stroke-width="1.4" />
<line x1="390.30" y1="611.10" x2="393.80" y2="611.10" stroke="#000" stroke-width="1.4" />
<line x1="388.30" y1="603.80" x2="393.80" y2="603.80" stroke="#000" stroke-width="1.4" />
<text x="387.00" y="609.02" font-size="14.5" text-anchor="end" font-weight="normal" font-style="normal" fill="#000" >4</text>
<line x1="390.30" y1="596.50" x2="393.80" y2="596.50" stroke="#000" stroke-width="1.4" />
<line x1="388.30" y1="589.20" x2="393.80" y2="589.20" stroke="#000" stroke-width="1.4" />
<line x1="390.30" y1="581.90" x2="393.80" y2="581.90" stroke="#000" stroke-width="1.4" />
<line x1="388.30" y1="574.60" x2="393.80" y2="574.60" stroke="#000" stroke-width="1.4" />
<text x="387.00" y="579.82" font-size="14.5" text-anchor="end" font-weight="normal" font-style="normal" fill="#000" >6</text>
<line x1="390.30" y1="567.30" x2="393.80" y2="567.30" stroke="#000" stroke-width="1.4" />
<line x1="388.30" y1="560.00" x2="393.80" y2="560.00" stroke="#000" stroke-width="1.4" />
<line x1="390.30" y1="552.70" x2="393.80" y2="552.70" stroke="#000" stroke-width="1.4" />
<line x1="388.30" y1="545.40" x2="393.80" y2="545.40" stroke="#000" stroke-width="1.4" />
<text x="387.00" y="550.62" font-size="14.5" text-anchor="end" font-weight="normal" font-style="normal" fill="#000" >8</text>
<line x1="390.30" y1="538.10" x2="393.80" y2="538.10" stroke="#000" stroke-width="1.4" />
<line x1="388.30" y1="530.80" x2="393.80" y2="530.80" stroke="#000" stroke-width="1.4" />
<line x1="390.30" y1="523.50" x2="393.80" y2="523.50" stroke="#000" stroke-width="1.4" />
<line x1="388.30" y1="516.20" x2="393.80" y2="516.20" stroke="#000" stroke-width="1.4" />
<text x="387.00" y="521.42" font-size="14.5" text-anchor="end" font-weight="normal" font-style="normal" fill="#000" >10</text>
<line x1="393.10" y1="662.20" x2="509.70" y2="662.20" stroke="#000" stroke-width="1.4" />
<rect x="410.10" y="654.17" width="21.60" height="8.03" fill="#fff" stroke="none" stroke-width="0" />
<rect x="410.10" y="623.95" width="21.60" height="30.22" fill="#c6c6c6" stroke="none" stroke-width="0" />
<rect x="410.10" y="623.95" width="21.60" height="38.25" fill="none" stroke="#000" stroke-width="1.5"/>
<line x1="410.10" y1="654.17" x2="431.70" y2="654.17" stroke="#000" stroke-width="1.5" />
<line x1="420.90" y1="628.91" x2="420.90" y2="626.87" stroke="#000" stroke-width="1.4" />
<line x1="415.42" y1="628.91" x2="426.38" y2="628.91" stroke="#000" stroke-width="1.4" />
<line x1="415.42" y1="626.87" x2="426.38" y2="626.87" stroke="#000" stroke-width="1.4" />
<line x1="420.90" y1="653.44" x2="420.90" y2="651.69" stroke="#000" stroke-width="1.4" />
<line x1="415.42" y1="653.44" x2="426.38" y2="653.44" stroke="#000" stroke-width="1.4" />
<line x1="415.42" y1="651.69" x2="426.38" y2="651.69" stroke="#000" stroke-width="1.4" />
<circle cx="414.90" cy="621.17" r="2.201999999999999" fill="#fff" stroke="#000" stroke-width="1.05"/>
<circle cx="420.90" cy="621.17" r="2.201999999999999" fill="#fff" stroke="#000" stroke-width="1.05"/>
<circle cx="426.90" cy="621.17" r="2.201999999999999" fill="#fff" stroke="#000" stroke-width="1.05"/>
<circle cx="420.90" cy="628.91" r="2.201999999999999" fill="#fff" stroke="#000" stroke-width="1.05"/>
<circle cx="412.40" cy="655.19" r="2.201999999999999" fill="#fff" stroke="#000" stroke-width="1.05"/>
<circle cx="417.40" cy="651.69" r="2.201999999999999" fill="#fff" stroke="#000" stroke-width="1.05"/>
<circle cx="423.40" cy="651.69" r="2.201999999999999" fill="#fff" stroke="#000" stroke-width="1.05"/>
<circle cx="429.20" cy="651.69" r="2.201999999999999" fill="#fff" stroke="#000" stroke-width="1.05"/>
<text x="420.90" y="659.20" font-size="6.8" text-anchor="middle" font-weight="normal" font-style="normal" fill="#222" >26%</text>
<rect x="443.70" y="607.89" width="20.90" height="54.31" fill="#fff" stroke="none" stroke-width="0" />
<rect x="443.70" y="557.81" width="20.90" height="50.08" fill="#e6730f" stroke="none" stroke-width="0" />
<rect x="443.70" y="557.81" width="20.90" height="104.39" fill="none" stroke="#000" stroke-width="1.5"/>
<line x1="443.70" y1="607.89" x2="464.60" y2="607.89" stroke="#000" stroke-width="1.5" />
<line x1="454.15" y1="564.82" x2="454.15" y2="549.05" stroke="#000" stroke-width="1.4" />
<line x1="448.88" y1="564.82" x2="459.42" y2="564.82" stroke="#000" stroke-width="1.4" />
<line x1="448.88" y1="549.05" x2="459.42" y2="549.05" stroke="#000" stroke-width="1.4" />
<line x1="454.15" y1="618.40" x2="454.15" y2="596.50" stroke="#000" stroke-width="1.4" />
<line x1="448.88" y1="618.40" x2="459.42" y2="618.40" stroke="#000" stroke-width="1.4" />
<line x1="448.88" y1="596.50" x2="459.42" y2="596.50" stroke="#000" stroke-width="1.4" />
<circle cx="449.15" cy="552.41" r="2.1880000000000006" fill="#fff" stroke="#000" stroke-width="1.05"/>
<circle cx="459.15" cy="549.05" r="2.1880000000000006" fill="#fff" stroke="#000" stroke-width="1.05"/>
<circle cx="454.15" cy="560.00" r="2.1880000000000006" fill="#fff" stroke="#000" stroke-width="1.05"/>
<circle cx="454.15" cy="567.30" r="2.1880000000000006" fill="#fff" stroke="#000" stroke-width="1.05"/>
<circle cx="449.15" cy="599.71" r="2.1880000000000006" fill="#fff" stroke="#000" stroke-width="1.05"/>
<circle cx="459.15" cy="596.50" r="2.1880000000000006" fill="#fff" stroke="#000" stroke-width="1.05"/>
<circle cx="449.15" cy="617.96" r="2.1880000000000006" fill="#fff" stroke="#000" stroke-width="1.05"/>
<circle cx="459.15" cy="614.31" r="2.1880000000000006" fill="#fff" stroke="#000" stroke-width="1.05"/>
<text x="454.15" y="659.20" font-size="6.8" text-anchor="middle" font-weight="normal" font-style="normal" fill="#222" >52%</text>
<rect x="476.50" y="616.65" width="21.50" height="45.55" fill="#fff" stroke="none" stroke-width="0" />
<rect x="476.50" y="564.38" width="21.50" height="52.27" fill="#6b3a14" stroke="none" stroke-width="0" />
<rect x="476.50" y="564.38" width="21.50" height="97.82" fill="none" stroke="#000" stroke-width="1.5"/>
<line x1="476.50" y1="616.65" x2="498.00" y2="616.65" stroke="#000" stroke-width="1.5" />
<line x1="487.25" y1="569.93" x2="487.25" y2="557.81" stroke="#000" stroke-width="1.4" />
<line x1="481.80" y1="569.93" x2="492.70" y2="569.93" stroke="#000" stroke-width="1.4" />
<line x1="481.80" y1="557.81" x2="492.70" y2="557.81" stroke="#000" stroke-width="1.4" />
<line x1="487.25" y1="617.09" x2="487.25" y2="612.12" stroke="#000" stroke-width="1.4" />
<line x1="481.80" y1="617.09" x2="492.70" y2="617.09" stroke="#000" stroke-width="1.4" />
<line x1="481.80" y1="612.12" x2="492.70" y2="612.12" stroke="#000" stroke-width="1.4" />
<circle cx="483.25" cy="555.91" r="2.1999999999999997" fill="#fff" stroke="#000" stroke-width="1.05"/>
<circle cx="491.95" cy="560.00" r="2.1999999999999997" fill="#fff" stroke="#000" stroke-width="1.05"/>
<circle cx="478.75" cy="567.30" r="2.1999999999999997" fill="#fff" stroke="#000" stroke-width="1.05"/>
<circle cx="487.25" cy="570.95" r="2.1999999999999997" fill="#fff" stroke="#000" stroke-width="1.05"/>
<circle cx="478.75" cy="610.81" r="2.1999999999999997" fill="#fff" stroke="#000" stroke-width="1.05"/>
<circle cx="487.25" cy="614.31" r="2.1999999999999997" fill="#fff" stroke="#000" stroke-width="1.05"/>
<circle cx="495.85" cy="614.31" r="2.1999999999999997" fill="#fff" stroke="#000" stroke-width="1.05"/>
<circle cx="478.75" cy="617.96" r="2.1999999999999997" fill="#fff" stroke="#000" stroke-width="1.05"/>
<text x="487.25" y="659.20" font-size="6.8" text-anchor="middle" font-weight="normal" font-style="normal" fill="#222" >48%</text>
<text x="421.00" y="675.00" font-size="10.8" text-anchor="middle" font-weight="normal" font-style="normal" fill="#000" >DMSO</text>
<text x="454.00" y="675.00" font-size="10.8" text-anchor="middle" font-weight="normal" font-style="normal" fill="#000" >ICI</text>
<text x="487.30" y="675.00" font-size="10.8" text-anchor="middle" font-weight="normal" font-style="normal" fill="#000" >Tam</text>
<text x="622.40" y="499.80" font-size="14" text-anchor="middle" font-weight="normal" font-style="normal" fill="#000" >HCT-15</text>
<text x="543.50" y="587.50" font-size="11.4" text-anchor="middle" transform="rotate(-90 543.50 587.50)">Percent of cells</text>
<rect x="574.40" y="510.90" width="11.30" height="4.80" fill="#c6c6c6" stroke="none" stroke-width="0" />
<rect x="574.40" y="515.70" width="11.30" height="4.80" fill="#e6730f" stroke="none" stroke-width="0" />
<rect x="574.40" y="520.50" width="11.30" height="4.80" fill="#6b3a14" stroke="none" stroke-width="0" />
<rect x="574.40" y="510.90" width="11.30" height="14.40" fill="none" stroke="#000" stroke-width="1.3" />
<line x1="574.40" y1="515.70" x2="585.70" y2="515.70" stroke="#000" stroke-width="1" />
<line x1="574.40" y1="520.50" x2="585.70" y2="520.50" stroke="#000" stroke-width="1" />
<text x="590.20" y="522.20" font-size="11.4" text-anchor="start" font-weight="normal" font-style="normal" fill="#000" >CA</text>
<rect x="613.70" y="515.65" width="10.8" height="4.9" rx="1" fill="#fff" stroke="#000" stroke-width="1.4"/>
<text x="629.60" y="522.20" font-size="11.4" text-anchor="start" font-weight="normal" font-style="normal" fill="#000" >ENL CTN2</text>
<text x="609.30" y="546.80" font-size="7.2" text-anchor="middle" font-weight="normal" font-style="italic" fill="#333" >p=0.015</text>
<text x="652.30" y="546.80" font-size="7.2" text-anchor="middle" font-weight="normal" font-style="italic" fill="#333" >p=0.015</text>
<line x1="590.30" y1="549.50" x2="625.10" y2="549.50" stroke="#222" stroke-width="0.85" />
<line x1="590.30" y1="551.50" x2="658.30" y2="551.50" stroke="#222" stroke-width="0.85" />
<line x1="566.70" y1="514.10" x2="566.70" y2="661.80" stroke="#000" stroke-width="1.4" />
<line x1="561.20" y1="661.10" x2="566.70" y2="661.10" stroke="#000" stroke-width="1.4" />
<text x="559.90" y="666.32" font-size="14.5" text-anchor="end" font-weight="normal" font-style="normal" fill="#000" >0</text>
<line x1="563.20" y1="648.85" x2="566.70" y2="648.85" stroke="#000" stroke-width="1.4" />
<line x1="561.20" y1="636.60" x2="566.70" y2="636.60" stroke="#000" stroke-width="1.4" />
<text x="559.90" y="641.82" font-size="14.5" text-anchor="end" font-weight="normal" font-style="normal" fill="#000" >1</text>
<line x1="563.20" y1="624.35" x2="566.70" y2="624.35" stroke="#000" stroke-width="1.4" />
<line x1="561.20" y1="612.10" x2="566.70" y2="612.10" stroke="#000" stroke-width="1.4" />
<text x="559.90" y="617.32" font-size="14.5" text-anchor="end" font-weight="normal" font-style="normal" fill="#000" >2</text>
<line x1="563.20" y1="599.85" x2="566.70" y2="599.85" stroke="#000" stroke-width="1.4" />
<line x1="561.20" y1="587.60" x2="566.70" y2="587.60" stroke="#000" stroke-width="1.4" />
<text x="559.90" y="592.82" font-size="14.5" text-anchor="end" font-weight="normal" font-style="normal" fill="#000" >3</text>
<line x1="563.20" y1="575.35" x2="566.70" y2="575.35" stroke="#000" stroke-width="1.4" />
<line x1="561.20" y1="563.10" x2="566.70" y2="563.10" stroke="#000" stroke-width="1.4" />
<text x="559.90" y="568.32" font-size="14.5" text-anchor="end" font-weight="normal" font-style="normal" fill="#000" >4</text>
<line x1="563.20" y1="550.85" x2="566.70" y2="550.85" stroke="#000" stroke-width="1.4" />
<line x1="561.20" y1="538.60" x2="566.70" y2="538.60" stroke="#000" stroke-width="1.4" />
<text x="559.90" y="543.82" font-size="14.5" text-anchor="end" font-weight="normal" font-style="normal" fill="#000" >5</text>
<line x1="563.20" y1="526.35" x2="566.70" y2="526.35" stroke="#000" stroke-width="1.4" />
<line x1="561.20" y1="514.10" x2="566.70" y2="514.10" stroke="#000" stroke-width="1.4" />
<text x="559.90" y="519.32" font-size="14.5" text-anchor="end" font-weight="normal" font-style="normal" fill="#000" >6</text>
<line x1="566.00" y1="661.10" x2="678.60" y2="661.10" stroke="#000" stroke-width="1.4" />
<rect x="578.50" y="639.05" width="21.50" height="22.05" fill="#c6c6c6" stroke="none" stroke-width="0" />
<rect x="578.50" y="639.05" width="21.50" height="22.05" fill="none" stroke="#000" stroke-width="1.5"/>
<line x1="589.25" y1="642.73" x2="589.25" y2="629.25" stroke="#000" stroke-width="1.4" />
<line x1="583.80" y1="642.73" x2="594.70" y2="642.73" stroke="#000" stroke-width="1.4" />
<line x1="583.80" y1="629.25" x2="594.70" y2="629.25" stroke="#000" stroke-width="1.4" />
<circle cx="589.25" cy="629.25" r="2.1999999999999997" fill="#fff" stroke="#000" stroke-width="1.05"/>
<circle cx="586.25" cy="642.73" r="2.1999999999999997" fill="#fff" stroke="#000" stroke-width="1.05"/>
<circle cx="592.25" cy="642.73" r="2.1999999999999997" fill="#fff" stroke="#000" stroke-width="1.05"/>
<circle cx="582.25" cy="661.10" r="2.1999999999999997" fill="#fff" stroke="#000" stroke-width="1.05"/>
<circle cx="589.25" cy="661.10" r="2.1999999999999997" fill="#fff" stroke="#000" stroke-width="1.05"/>
<circle cx="596.25" cy="661.10" r="2.1999999999999997" fill="#fff" stroke="#000" stroke-width="1.05"/>
<rect x="611.70" y="624.35" width="21.70" height="36.75" fill="#fff" stroke="none" stroke-width="0" />
<rect x="611.70" y="583.93" width="21.70" height="40.42" fill="#e6730f" stroke="none" stroke-width="0" />
<rect x="611.70" y="583.93" width="21.70" height="77.17" fill="none" stroke="#000" stroke-width="1.5"/>
<line x1="611.70" y1="624.35" x2="633.40" y2="624.35" stroke="#000" stroke-width="1.5" />
<line x1="622.55" y1="587.60" x2="622.55" y2="581.48" stroke="#000" stroke-width="1.4" />
<line x1="617.04" y1="587.60" x2="628.06" y2="587.60" stroke="#000" stroke-width="1.4" />
<line x1="617.04" y1="581.48" x2="628.06" y2="581.48" stroke="#000" stroke-width="1.4" />
<circle cx="618.55" cy="581.48" r="2.2039999999999984" fill="#fff" stroke="#000" stroke-width="1.05"/>
<circle cx="626.55" cy="581.48" r="2.2039999999999984" fill="#fff" stroke="#000" stroke-width="1.05"/>
<circle cx="622.55" cy="587.60" r="2.2039999999999984" fill="#fff" stroke="#000" stroke-width="1.05"/>
<circle cx="615.55" cy="624.35" r="2.2039999999999984" fill="#fff" stroke="#000" stroke-width="1.05"/>
<circle cx="622.55" cy="624.35" r="2.2039999999999984" fill="#fff" stroke="#000" stroke-width="1.05"/>
<circle cx="629.55" cy="624.35" r="2.2039999999999984" fill="#fff" stroke="#000" stroke-width="1.05"/>
<text x="622.55" y="658.10" font-size="6.8" text-anchor="middle" font-weight="normal" font-style="normal" fill="#222" >47%</text>
<rect x="645.40" y="626.80" width="21.20" height="34.30" fill="#fff" stroke="none" stroke-width="0" />
<rect x="645.40" y="587.60" width="21.20" height="39.20" fill="#6b3a14" stroke="none" stroke-width="0" />
<rect x="645.40" y="587.60" width="21.20" height="73.50" fill="none" stroke="#000" stroke-width="1.5"/>
<line x1="645.40" y1="626.80" x2="666.60" y2="626.80" stroke="#000" stroke-width="1.5" />
<line x1="656.00" y1="596.18" x2="656.00" y2="576.58" stroke="#000" stroke-width="1.4" />
<line x1="650.64" y1="596.18" x2="661.36" y2="596.18" stroke="#000" stroke-width="1.4" />
<line x1="650.64" y1="576.58" x2="661.36" y2="576.58" stroke="#000" stroke-width="1.4" />
<line x1="656.00" y1="629.25" x2="656.00" y2="623.12" stroke="#000" stroke-width="1.4" />
<line x1="650.64" y1="629.25" x2="661.36" y2="629.25" stroke="#000" stroke-width="1.4" />
<line x1="650.64" y1="623.12" x2="661.36" y2="623.12" stroke="#000" stroke-width="1.4" />
<circle cx="656.00" cy="575.35" r="2.194000000000001" fill="#fff" stroke="#000" stroke-width="1.05"/>
<circle cx="652.00" cy="596.18" r="2.194000000000001" fill="#fff" stroke="#000" stroke-width="1.05"/>
<circle cx="660.00" cy="596.18" r="2.194000000000001" fill="#fff" stroke="#000" stroke-width="1.05"/>
<circle cx="656.00" cy="623.12" r="2.194000000000001" fill="#fff" stroke="#000" stroke-width="1.05"/>
<circle cx="656.00" cy="629.25" r="2.194000000000001" fill="#fff" stroke="#000" stroke-width="1.05"/>
<text x="656.00" y="658.10" font-size="6.8" text-anchor="middle" font-weight="normal" font-style="normal" fill="#222" >48%</text>
<text x="589.20" y="676.00" font-size="10.8" text-anchor="middle" font-weight="normal" font-style="normal" fill="#000" >DMSO</text>
<text x="622.40" y="676.00" font-size="10.8" text-anchor="middle" font-weight="normal" font-style="normal" fill="#000" >ICI</text>
<text x="655.60" y="676.00" font-size="10.8" text-anchor="middle" font-weight="normal" font-style="normal" fill="#000" >Tam</text>
<text x="85.80" y="720.80" font-size="14" text-anchor="middle" font-weight="normal" font-style="normal" fill="#000" >HCT116</text>
<text x="25.50" y="829.80" font-size="11.4" text-anchor="middle" transform="rotate(-90 25.50 829.80)">Percent of cells</text>
<rect x="55.30" y="734.80" width="12.00" height="4.80" fill="#c6c6c6" stroke="none" stroke-width="0" />
<rect x="55.30" y="739.60" width="12.00" height="4.80" fill="#4d50a8" stroke="none" stroke-width="0" />
<rect x="55.30" y="734.80" width="12.00" height="9.60" fill="none" stroke="#000" stroke-width="1.3" />
<line x1="55.30" y1="739.60" x2="67.30" y2="739.60" stroke="#000" stroke-width="1" />
<text x="72.30" y="743.67" font-size="11.3" text-anchor="start" font-weight="normal" font-style="normal" fill="#000" >CA</text>
<rect x="55.60" y="751.60" width="11.1" height="4.6" rx="1.1" fill="#fff" stroke="#000" stroke-width="1.35"/>
<text x="72.30" y="757.67" font-size="11.3" text-anchor="start" font-weight="normal" font-style="normal" fill="#000" >ENL CTN2</text>
<line x1="50.00" y1="757.30" x2="50.00" y2="903.20" stroke="#000" stroke-width="1.4" />
<line x1="44.50" y1="902.50" x2="50.00" y2="902.50" stroke="#000" stroke-width="1.4" />
<text x="43.20" y="907.72" font-size="14.5" text-anchor="end" font-weight="normal" font-style="normal" fill="#000" >0</text>
<line x1="46.50" y1="896.45" x2="50.00" y2="896.45" stroke="#000" stroke-width="1.4" />
<line x1="44.50" y1="890.40" x2="50.00" y2="890.40" stroke="#000" stroke-width="1.4" />
<line x1="46.50" y1="884.35" x2="50.00" y2="884.35" stroke="#000" stroke-width="1.4" />
<line x1="44.50" y1="878.30" x2="50.00" y2="878.30" stroke="#000" stroke-width="1.4" />
<text x="43.20" y="883.52" font-size="14.5" text-anchor="end" font-weight="normal" font-style="normal" fill="#000" >2</text>
<line x1="46.50" y1="872.25" x2="50.00" y2="872.25" stroke="#000" stroke-width="1.4" />
<line x1="44.50" y1="866.20" x2="50.00" y2="866.20" stroke="#000" stroke-width="1.4" />
<line x1="46.50" y1="860.15" x2="50.00" y2="860.15" stroke="#000" stroke-width="1.4" />
<line x1="44.50" y1="854.10" x2="50.00" y2="854.10" stroke="#000" stroke-width="1.4" />
<text x="43.20" y="859.32" font-size="14.5" text-anchor="end" font-weight="normal" font-style="normal" fill="#000" >4</text>
<line x1="46.50" y1="848.05" x2="50.00" y2="848.05" stroke="#000" stroke-width="1.4" />
<line x1="44.50" y1="842.00" x2="50.00" y2="842.00" stroke="#000" stroke-width="1.4" />
<line x1="46.50" y1="835.95" x2="50.00" y2="835.95" stroke="#000" stroke-width="1.4" />
<line x1="44.50" y1="829.90" x2="50.00" y2="829.90" stroke="#000" stroke-width="1.4" />
<text x="43.20" y="835.12" font-size="14.5" text-anchor="end" font-weight="normal" font-style="normal" fill="#000" >6</text>
<line x1="46.50" y1="823.85" x2="50.00" y2="823.85" stroke="#000" stroke-width="1.4" />
<line x1="44.50" y1="817.80" x2="50.00" y2="817.80" stroke="#000" stroke-width="1.4" />
<line x1="46.50" y1="811.75" x2="50.00" y2="811.75" stroke="#000" stroke-width="1.4" />
<line x1="44.50" y1="805.70" x2="50.00" y2="805.70" stroke="#000" stroke-width="1.4" />
<text x="43.20" y="810.92" font-size="14.5" text-anchor="end" font-weight="normal" font-style="normal" fill="#000" >8</text>
<line x1="46.50" y1="799.65" x2="50.00" y2="799.65" stroke="#000" stroke-width="1.4" />
<line x1="44.50" y1="793.60" x2="50.00" y2="793.60" stroke="#000" stroke-width="1.4" />
<line x1="46.50" y1="787.55" x2="50.00" y2="787.55" stroke="#000" stroke-width="1.4" />
<line x1="44.50" y1="781.50" x2="50.00" y2="781.50" stroke="#000" stroke-width="1.4" />
<text x="43.20" y="786.72" font-size="14.5" text-anchor="end" font-weight="normal" font-style="normal" fill="#000" >10</text>
<line x1="46.50" y1="775.45" x2="50.00" y2="775.45" stroke="#000" stroke-width="1.4" />
<line x1="44.50" y1="769.40" x2="50.00" y2="769.40" stroke="#000" stroke-width="1.4" />
<line x1="46.50" y1="763.35" x2="50.00" y2="763.35" stroke="#000" stroke-width="1.4" />
<line x1="44.50" y1="757.30" x2="50.00" y2="757.30" stroke="#000" stroke-width="1.4" />
<text x="43.20" y="762.52" font-size="14.5" text-anchor="end" font-weight="normal" font-style="normal" fill="#000" >12</text>
<line x1="49.30" y1="902.50" x2="121.60" y2="902.50" stroke="#000" stroke-width="1.4" />
<rect x="59.90" y="894.51" width="19.50" height="7.99" fill="#fff" stroke="none" stroke-width="0" />
<rect x="59.90" y="868.86" width="19.50" height="25.65" fill="#c6c6c6" stroke="none" stroke-width="0" />
<rect x="59.90" y="868.86" width="19.50" height="33.64" fill="none" stroke="#000" stroke-width="1.5"/>
<line x1="59.90" y1="894.51" x2="79.40" y2="894.51" stroke="#000" stroke-width="1.5" />
<line x1="69.65" y1="869.59" x2="69.65" y2="867.41" stroke="#000" stroke-width="1.4" />
<line x1="64.80" y1="869.59" x2="74.50" y2="869.59" stroke="#000" stroke-width="1.4" />
<line x1="64.80" y1="867.41" x2="74.50" y2="867.41" stroke="#000" stroke-width="1.4" />
<line x1="69.65" y1="895.24" x2="69.65" y2="892.22" stroke="#000" stroke-width="1.4" />
<line x1="64.80" y1="895.24" x2="74.50" y2="895.24" stroke="#000" stroke-width="1.4" />
<line x1="64.80" y1="892.22" x2="74.50" y2="892.22" stroke="#000" stroke-width="1.4" />
<circle cx="63.65" cy="869.59" r="2.16" fill="#fff" stroke="#000" stroke-width="1.05"/>
<circle cx="69.65" cy="866.20" r="2.16" fill="#fff" stroke="#000" stroke-width="1.05"/>
<circle cx="75.65" cy="869.59" r="2.16" fill="#fff" stroke="#000" stroke-width="1.05"/>
<circle cx="63.65" cy="896.21" r="2.16" fill="#fff" stroke="#000" stroke-width="1.05"/>
<circle cx="69.65" cy="890.04" r="2.16" fill="#fff" stroke="#000" stroke-width="1.05"/>
<circle cx="75.65" cy="892.94" r="2.16" fill="#fff" stroke="#000" stroke-width="1.05"/>
<text x="69.65" y="899.50" font-size="6.8" text-anchor="middle" font-weight="normal" font-style="normal" fill="#222" >26%</text>
<rect x="93.40" y="878.66" width="19.20" height="23.84" fill="#fff" stroke="none" stroke-width="0" />
<rect x="93.40" y="785.13" width="19.20" height="93.53" fill="#4d50a8" stroke="none" stroke-width="0" />
<rect x="93.40" y="785.13" width="19.20" height="117.37" fill="none" stroke="#000" stroke-width="1.5"/>
<line x1="93.40" y1="878.66" x2="112.60" y2="878.66" stroke="#000" stroke-width="1.5" />
<line x1="103.00" y1="795.17" x2="103.00" y2="773.76" stroke="#000" stroke-width="1.4" />
<line x1="98.24" y1="795.17" x2="107.76" y2="795.17" stroke="#000" stroke-width="1.4" />
<line x1="98.24" y1="773.76" x2="107.76" y2="773.76" stroke="#000" stroke-width="1.4" />
<line x1="103.00" y1="883.14" x2="103.00" y2="873.46" stroke="#000" stroke-width="1.4" />
<line x1="98.24" y1="883.14" x2="107.76" y2="883.14" stroke="#000" stroke-width="1.4" />
<line x1="98.24" y1="873.46" x2="107.76" y2="873.46" stroke="#000" stroke-width="1.4" />
<circle cx="103.00" cy="775.45" r="2.1539999999999995" fill="#fff" stroke="#000" stroke-width="1.05"/>
<circle cx="103.00" cy="781.50" r="2.1539999999999995" fill="#fff" stroke="#000" stroke-width="1.05"/>
<circle cx="103.00" cy="796.62" r="2.1539999999999995" fill="#fff" stroke="#000" stroke-width="1.05"/>
<circle cx="99.80" cy="875.52" r="2.1539999999999995" fill="#fff" stroke="#000" stroke-width="1.05"/>
<circle cx="106.20" cy="875.52" r="2.1539999999999995" fill="#fff" stroke="#000" stroke-width="1.05"/>
<circle cx="103.00" cy="884.23" r="2.1539999999999995" fill="#fff" stroke="#000" stroke-width="1.05"/>
<text x="103.00" y="899.50" font-size="6.8" text-anchor="middle" font-weight="normal" font-style="normal" fill="#222" >21%</text>
<text x="69.60" y="913.00" font-size="10.8" text-anchor="middle" font-weight="normal" font-style="normal" fill="#000" >Ctr</text>
<text x="103.40" y="913.00" font-size="10.8" text-anchor="middle" font-weight="normal" font-style="italic" fill="#000" >PLK4</text>
<text x="212.40" y="719.60" font-size="14" text-anchor="middle" font-weight="normal" font-style="normal" fill="#000" >HCT-15</text>
<text x="154.50" y="828.50" font-size="11.4" text-anchor="middle" transform="rotate(-90 154.50 828.50)">Percent of cells</text>
<rect x="185.50" y="730.70" width="12.00" height="4.80" fill="#c6c6c6" stroke="none" stroke-width="0" />
<rect x="185.50" y="735.50" width="12.00" height="4.80" fill="#4d50a8" stroke="none" stroke-width="0" />
<rect x="185.50" y="730.70" width="12.00" height="9.60" fill="none" stroke="#000" stroke-width="1.3" />
<line x1="185.50" y1="735.50" x2="197.50" y2="735.50" stroke="#000" stroke-width="1" />
<text x="201.80" y="739.57" font-size="11.3" text-anchor="start" font-weight="normal" font-style="normal" fill="#000" >CA</text>
<rect x="185.80" y="752.00" width="11.1" height="4.6" rx="1.1" fill="#fff" stroke="#000" stroke-width="1.35"/>
<text x="201.80" y="758.07" font-size="11.3" text-anchor="start" font-weight="normal" font-style="normal" fill="#000" >ENL CTN2</text>
<line x1="177.90" y1="755.20" x2="177.90" y2="900.70" stroke="#000" stroke-width="1.4" />
<line x1="172.40" y1="900.00" x2="177.90" y2="900.00" stroke="#000" stroke-width="1.4" />
<text x="171.10" y="905.22" font-size="14.5" text-anchor="end" font-weight="normal" font-style="normal" fill="#000" >0</text>
<line x1="174.40" y1="890.95" x2="177.90" y2="890.95" stroke="#000" stroke-width="1.4" />
<line x1="172.40" y1="881.90" x2="177.90" y2="881.90" stroke="#000" stroke-width="1.4" />
<text x="171.10" y="887.12" font-size="14.5" text-anchor="end" font-weight="normal" font-style="normal" fill="#000" >1</text>
<line x1="174.40" y1="872.85" x2="177.90" y2="872.85" stroke="#000" stroke-width="1.4" />
<line x1="172.40" y1="863.80" x2="177.90" y2="863.80" stroke="#000" stroke-width="1.4" />
<text x="171.10" y="869.02" font-size="14.5" text-anchor="end" font-weight="normal" font-style="normal" fill="#000" >2</text>
<line x1="174.40" y1="854.75" x2="177.90" y2="854.75" stroke="#000" stroke-width="1.4" />
<line x1="172.40" y1="845.70" x2="177.90" y2="845.70" stroke="#000" stroke-width="1.4" />
<text x="171.10" y="850.92" font-size="14.5" text-anchor="end" font-weight="normal" font-style="normal" fill="#000" >3</text>
<line x1="174.40" y1="836.65" x2="177.90" y2="836.65" stroke="#000" stroke-width="1.4" />
<line x1="172.40" y1="827.60" x2="177.90" y2="827.60" stroke="#000" stroke-width="1.4" />
<text x="171.10" y="832.82" font-size="14.5" text-anchor="end" font-weight="normal" font-style="normal" fill="#000" >4</text>
<line x1="174.40" y1="818.55" x2="177.90" y2="818.55" stroke="#000" stroke-width="1.4" />
<line x1="172.40" y1="809.50" x2="177.90" y2="809.50" stroke="#000" stroke-width="1.4" />
<text x="171.10" y="814.72" font-size="14.5" text-anchor="end" font-weight="normal" font-style="normal" fill="#000" >5</text>
<line x1="174.40" y1="800.45" x2="177.90" y2="800.45" stroke="#000" stroke-width="1.4" />
<line x1="172.40" y1="791.40" x2="177.90" y2="791.40" stroke="#000" stroke-width="1.4" />
<text x="171.10" y="796.62" font-size="14.5" text-anchor="end" font-weight="normal" font-style="normal" fill="#000" >6</text>
<line x1="174.40" y1="782.35" x2="177.90" y2="782.35" stroke="#000" stroke-width="1.4" />
<line x1="172.40" y1="773.30" x2="177.90" y2="773.30" stroke="#000" stroke-width="1.4" />
<text x="171.10" y="778.52" font-size="14.5" text-anchor="end" font-weight="normal" font-style="normal" fill="#000" >7</text>
<line x1="174.40" y1="764.25" x2="177.90" y2="764.25" stroke="#000" stroke-width="1.4" />
<line x1="172.40" y1="755.20" x2="177.90" y2="755.20" stroke="#000" stroke-width="1.4" />
<text x="171.10" y="760.42" font-size="14.5" text-anchor="end" font-weight="normal" font-style="normal" fill="#000" >8</text>
<line x1="177.20" y1="900.00" x2="247.80" y2="900.00" stroke="#000" stroke-width="1.4" />
<rect x="186.30" y="883.71" width="20.20" height="16.29" fill="#c6c6c6" stroke="none" stroke-width="0" />
<rect x="186.30" y="883.71" width="20.20" height="16.29" fill="none" stroke="#000" stroke-width="1.5"/>
<line x1="196.40" y1="891.31" x2="196.40" y2="876.47" stroke="#000" stroke-width="1.4" />
<line x1="191.34" y1="891.31" x2="201.46" y2="891.31" stroke="#000" stroke-width="1.4" />
<line x1="191.34" y1="876.47" x2="201.46" y2="876.47" stroke="#000" stroke-width="1.4" />
<circle cx="202.40" cy="877.01" r="2.1739999999999995" fill="#fff" stroke="#000" stroke-width="1.05"/>
<circle cx="196.40" cy="881.90" r="2.1739999999999995" fill="#fff" stroke="#000" stroke-width="1.05"/>
<circle cx="196.40" cy="891.31" r="2.1739999999999995" fill="#fff" stroke="#000" stroke-width="1.05"/>
<circle cx="189.90" cy="900.00" r="2.1739999999999995" fill="#fff" stroke="#000" stroke-width="1.05"/>
<circle cx="196.40" cy="900.00" r="2.1739999999999995" fill="#fff" stroke="#000" stroke-width="1.05"/>
<circle cx="202.90" cy="900.00" r="2.1739999999999995" fill="#fff" stroke="#000" stroke-width="1.05"/>
<rect x="218.30" y="800.45" width="19.70" height="99.55" fill="#4d50a8" stroke="none" stroke-width="0" />
<rect x="218.30" y="800.45" width="19.70" height="99.55" fill="none" stroke="#000" stroke-width="1.5"/>
<line x1="228.15" y1="827.60" x2="228.15" y2="773.30" stroke="#000" stroke-width="1.4" />
<line x1="223.24" y1="827.60" x2="233.06" y2="827.60" stroke="#000" stroke-width="1.4" />
<line x1="223.24" y1="773.30" x2="233.06" y2="773.30" stroke="#000" stroke-width="1.4" />
<circle cx="228.15" cy="771.49" r="2.1639999999999997" fill="#fff" stroke="#000" stroke-width="1.05"/>
<circle cx="228.15" cy="807.69" r="2.1639999999999997" fill="#fff" stroke="#000" stroke-width="1.05"/>
<circle cx="228.15" cy="822.17" r="2.1639999999999997" fill="#fff" stroke="#000" stroke-width="1.05"/>
<circle cx="222.15" cy="900.00" r="2.1639999999999997" fill="#fff" stroke="#000" stroke-width="1.05"/>
<circle cx="228.15" cy="900.00" r="2.1639999999999997" fill="#fff" stroke="#000" stroke-width="1.05"/>
<circle cx="234.15" cy="900.00" r="2.1639999999999997" fill="#fff" stroke="#000" stroke-width="1.05"/>
<text x="196.00" y="913.00" font-size="10.8" text-anchor="middle" font-weight="normal" font-style="normal" fill="#000" >Ctr</text>
<text x="228.60" y="913.00" font-size="10.8" text-anchor="middle" font-weight="normal" font-style="italic" fill="#000" >PLK4</text>
</svg>
</body></html>
